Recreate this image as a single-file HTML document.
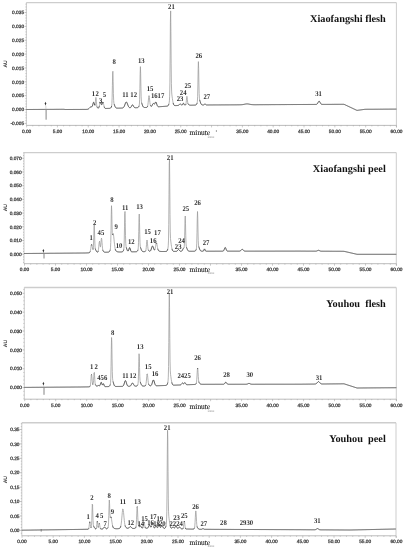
<!DOCTYPE html>
<html><head><meta charset="utf-8"><style>
html,body{margin:0;padding:0;background:#fff;}
svg{display:block;filter:grayscale(1);}
text{text-rendering:geometricPrecision;}
.tk{font-family:"Liberation Sans",sans-serif;font-size:4.8px;fill:#3a3a3a;stroke:#3a3a3a;stroke-width:0.25;}
.pk{font-family:"Liberation Serif",serif;font-size:7.3px;font-weight:bold;fill:#333;}
.ti{font-family:"Liberation Serif",serif;font-size:10.3px;font-weight:bold;fill:#111;}
.au{font-family:"Liberation Sans",sans-serif;font-size:5.1px;font-weight:bold;fill:#333;}
.sm{font-family:"Liberation Sans",sans-serif;font-size:2.7px;fill:#888;}
.mn{font-family:"Liberation Serif",serif;font-size:7.4px;fill:#222;stroke:#222;stroke-width:0.12;}
</style></head><body>
<svg width="408" height="550" viewBox="0 0 408 550">
<rect width="408" height="550" fill="#fff"/>
<line x1="26.4" y1="2.6" x2="396.4" y2="2.6" stroke="#cdcdcd" stroke-width="1.4"/>
<line x1="396.4" y1="2.6" x2="396.4" y2="127.4" stroke="#cdcdcd" stroke-width="1"/>
<line x1="26.4" y1="2.6" x2="26.4" y2="125.4" stroke="#b4b4b4" stroke-width="0.7"/>
<line x1="26.4" y1="125.4" x2="396.4" y2="125.4" stroke="#b4b4b4" stroke-width="0.9"/>
<text x="24.1" y="14.25" class="tk" text-anchor="end">0.035</text>
<line x1="24.6" y1="12.50" x2="26.4" y2="12.50" stroke="#999" stroke-width="0.6"/>
<text x="24.1" y="28.11" class="tk" text-anchor="end">0.030</text>
<line x1="24.6" y1="26.36" x2="26.4" y2="26.36" stroke="#999" stroke-width="0.6"/>
<text x="24.1" y="41.97" class="tk" text-anchor="end">0.025</text>
<line x1="24.6" y1="40.22" x2="26.4" y2="40.22" stroke="#999" stroke-width="0.6"/>
<text x="24.1" y="55.83" class="tk" text-anchor="end">0.020</text>
<line x1="24.6" y1="54.08" x2="26.4" y2="54.08" stroke="#999" stroke-width="0.6"/>
<text x="24.1" y="69.69" class="tk" text-anchor="end">0.015</text>
<line x1="24.6" y1="67.94" x2="26.4" y2="67.94" stroke="#999" stroke-width="0.6"/>
<text x="24.1" y="83.55" class="tk" text-anchor="end">0.010</text>
<line x1="24.6" y1="81.80" x2="26.4" y2="81.80" stroke="#999" stroke-width="0.6"/>
<text x="24.1" y="97.41" class="tk" text-anchor="end">0.005</text>
<line x1="24.6" y1="95.66" x2="26.4" y2="95.66" stroke="#999" stroke-width="0.6"/>
<text x="24.1" y="111.27" class="tk" text-anchor="end">0.000</text>
<line x1="24.6" y1="109.52" x2="26.4" y2="109.52" stroke="#999" stroke-width="0.6"/>
<text x="24.1" y="125.13" class="tk" text-anchor="end">-0.005</text>
<line x1="24.6" y1="123.38" x2="26.4" y2="123.38" stroke="#999" stroke-width="0.6"/>
<line x1="25.4" y1="4.18" x2="26.4" y2="4.18" stroke="#999" stroke-width="0.5"/>
<line x1="25.4" y1="6.96" x2="26.4" y2="6.96" stroke="#999" stroke-width="0.5"/>
<line x1="25.4" y1="9.73" x2="26.4" y2="9.73" stroke="#999" stroke-width="0.5"/>
<line x1="25.4" y1="15.27" x2="26.4" y2="15.27" stroke="#999" stroke-width="0.5"/>
<line x1="25.4" y1="18.04" x2="26.4" y2="18.04" stroke="#999" stroke-width="0.5"/>
<line x1="25.4" y1="20.82" x2="26.4" y2="20.82" stroke="#999" stroke-width="0.5"/>
<line x1="25.4" y1="23.59" x2="26.4" y2="23.59" stroke="#999" stroke-width="0.5"/>
<line x1="25.4" y1="29.13" x2="26.4" y2="29.13" stroke="#999" stroke-width="0.5"/>
<line x1="25.4" y1="31.90" x2="26.4" y2="31.90" stroke="#999" stroke-width="0.5"/>
<line x1="25.4" y1="34.68" x2="26.4" y2="34.68" stroke="#999" stroke-width="0.5"/>
<line x1="25.4" y1="37.45" x2="26.4" y2="37.45" stroke="#999" stroke-width="0.5"/>
<line x1="25.4" y1="42.99" x2="26.4" y2="42.99" stroke="#999" stroke-width="0.5"/>
<line x1="25.4" y1="45.76" x2="26.4" y2="45.76" stroke="#999" stroke-width="0.5"/>
<line x1="25.4" y1="48.54" x2="26.4" y2="48.54" stroke="#999" stroke-width="0.5"/>
<line x1="25.4" y1="51.31" x2="26.4" y2="51.31" stroke="#999" stroke-width="0.5"/>
<line x1="25.4" y1="56.85" x2="26.4" y2="56.85" stroke="#999" stroke-width="0.5"/>
<line x1="25.4" y1="59.62" x2="26.4" y2="59.62" stroke="#999" stroke-width="0.5"/>
<line x1="25.4" y1="62.40" x2="26.4" y2="62.40" stroke="#999" stroke-width="0.5"/>
<line x1="25.4" y1="65.17" x2="26.4" y2="65.17" stroke="#999" stroke-width="0.5"/>
<line x1="25.4" y1="70.71" x2="26.4" y2="70.71" stroke="#999" stroke-width="0.5"/>
<line x1="25.4" y1="73.48" x2="26.4" y2="73.48" stroke="#999" stroke-width="0.5"/>
<line x1="25.4" y1="76.26" x2="26.4" y2="76.26" stroke="#999" stroke-width="0.5"/>
<line x1="25.4" y1="79.03" x2="26.4" y2="79.03" stroke="#999" stroke-width="0.5"/>
<line x1="25.4" y1="84.57" x2="26.4" y2="84.57" stroke="#999" stroke-width="0.5"/>
<line x1="25.4" y1="87.34" x2="26.4" y2="87.34" stroke="#999" stroke-width="0.5"/>
<line x1="25.4" y1="90.12" x2="26.4" y2="90.12" stroke="#999" stroke-width="0.5"/>
<line x1="25.4" y1="92.89" x2="26.4" y2="92.89" stroke="#999" stroke-width="0.5"/>
<line x1="25.4" y1="98.43" x2="26.4" y2="98.43" stroke="#999" stroke-width="0.5"/>
<line x1="25.4" y1="101.20" x2="26.4" y2="101.20" stroke="#999" stroke-width="0.5"/>
<line x1="25.4" y1="103.98" x2="26.4" y2="103.98" stroke="#999" stroke-width="0.5"/>
<line x1="25.4" y1="106.75" x2="26.4" y2="106.75" stroke="#999" stroke-width="0.5"/>
<line x1="25.4" y1="112.29" x2="26.4" y2="112.29" stroke="#999" stroke-width="0.5"/>
<line x1="25.4" y1="115.06" x2="26.4" y2="115.06" stroke="#999" stroke-width="0.5"/>
<line x1="25.4" y1="117.84" x2="26.4" y2="117.84" stroke="#999" stroke-width="0.5"/>
<line x1="25.4" y1="120.61" x2="26.4" y2="120.61" stroke="#999" stroke-width="0.5"/>
<line x1="26.60" y1="125.4" x2="26.60" y2="127.4" stroke="#999" stroke-width="0.5"/>
<text x="26.60" y="132.70" class="tk" text-anchor="middle">0.00</text>
<line x1="32.77" y1="125.4" x2="32.77" y2="126.4" stroke="#999" stroke-width="0.5"/>
<line x1="38.93" y1="125.4" x2="38.93" y2="126.4" stroke="#999" stroke-width="0.5"/>
<line x1="45.09" y1="125.4" x2="45.09" y2="126.4" stroke="#999" stroke-width="0.5"/>
<line x1="51.26" y1="125.4" x2="51.26" y2="126.4" stroke="#999" stroke-width="0.5"/>
<line x1="57.42" y1="125.4" x2="57.42" y2="127.4" stroke="#999" stroke-width="0.5"/>
<text x="57.42" y="132.70" class="tk" text-anchor="middle">5.00</text>
<line x1="63.59" y1="125.4" x2="63.59" y2="126.4" stroke="#999" stroke-width="0.5"/>
<line x1="69.75" y1="125.4" x2="69.75" y2="126.4" stroke="#999" stroke-width="0.5"/>
<line x1="75.92" y1="125.4" x2="75.92" y2="126.4" stroke="#999" stroke-width="0.5"/>
<line x1="82.09" y1="125.4" x2="82.09" y2="126.4" stroke="#999" stroke-width="0.5"/>
<line x1="88.25" y1="125.4" x2="88.25" y2="127.4" stroke="#999" stroke-width="0.5"/>
<text x="88.25" y="132.70" class="tk" text-anchor="middle">10.00</text>
<line x1="94.41" y1="125.4" x2="94.41" y2="126.4" stroke="#999" stroke-width="0.5"/>
<line x1="100.58" y1="125.4" x2="100.58" y2="126.4" stroke="#999" stroke-width="0.5"/>
<line x1="106.75" y1="125.4" x2="106.75" y2="126.4" stroke="#999" stroke-width="0.5"/>
<line x1="112.91" y1="125.4" x2="112.91" y2="126.4" stroke="#999" stroke-width="0.5"/>
<line x1="119.07" y1="125.4" x2="119.07" y2="127.4" stroke="#999" stroke-width="0.5"/>
<text x="119.07" y="132.70" class="tk" text-anchor="middle">15.00</text>
<line x1="125.24" y1="125.4" x2="125.24" y2="126.4" stroke="#999" stroke-width="0.5"/>
<line x1="131.41" y1="125.4" x2="131.41" y2="126.4" stroke="#999" stroke-width="0.5"/>
<line x1="137.57" y1="125.4" x2="137.57" y2="126.4" stroke="#999" stroke-width="0.5"/>
<line x1="143.73" y1="125.4" x2="143.73" y2="126.4" stroke="#999" stroke-width="0.5"/>
<line x1="149.90" y1="125.4" x2="149.90" y2="127.4" stroke="#999" stroke-width="0.5"/>
<text x="149.90" y="132.70" class="tk" text-anchor="middle">20.00</text>
<line x1="156.06" y1="125.4" x2="156.06" y2="126.4" stroke="#999" stroke-width="0.5"/>
<line x1="162.23" y1="125.4" x2="162.23" y2="126.4" stroke="#999" stroke-width="0.5"/>
<line x1="168.39" y1="125.4" x2="168.39" y2="126.4" stroke="#999" stroke-width="0.5"/>
<line x1="174.56" y1="125.4" x2="174.56" y2="126.4" stroke="#999" stroke-width="0.5"/>
<line x1="180.72" y1="125.4" x2="180.72" y2="127.4" stroke="#999" stroke-width="0.5"/>
<text x="180.72" y="132.70" class="tk" text-anchor="middle">25.00</text>
<line x1="186.89" y1="125.4" x2="186.89" y2="126.4" stroke="#999" stroke-width="0.5"/>
<line x1="193.05" y1="125.4" x2="193.05" y2="126.4" stroke="#999" stroke-width="0.5"/>
<line x1="199.22" y1="125.4" x2="199.22" y2="126.4" stroke="#999" stroke-width="0.5"/>
<line x1="205.38" y1="125.4" x2="205.38" y2="126.4" stroke="#999" stroke-width="0.5"/>
<line x1="211.55" y1="125.4" x2="211.55" y2="127.4" stroke="#999" stroke-width="0.5"/>
<text x="211.55" y="132.70" class="tk" text-anchor="middle">30.00</text>
<line x1="217.71" y1="125.4" x2="217.71" y2="126.4" stroke="#999" stroke-width="0.5"/>
<line x1="223.88" y1="125.4" x2="223.88" y2="126.4" stroke="#999" stroke-width="0.5"/>
<line x1="230.04" y1="125.4" x2="230.04" y2="126.4" stroke="#999" stroke-width="0.5"/>
<line x1="236.21" y1="125.4" x2="236.21" y2="126.4" stroke="#999" stroke-width="0.5"/>
<line x1="242.38" y1="125.4" x2="242.38" y2="127.4" stroke="#999" stroke-width="0.5"/>
<text x="242.38" y="132.70" class="tk" text-anchor="middle">35.00</text>
<line x1="248.54" y1="125.4" x2="248.54" y2="126.4" stroke="#999" stroke-width="0.5"/>
<line x1="254.70" y1="125.4" x2="254.70" y2="126.4" stroke="#999" stroke-width="0.5"/>
<line x1="260.87" y1="125.4" x2="260.87" y2="126.4" stroke="#999" stroke-width="0.5"/>
<line x1="267.03" y1="125.4" x2="267.03" y2="126.4" stroke="#999" stroke-width="0.5"/>
<line x1="273.20" y1="125.4" x2="273.20" y2="127.4" stroke="#999" stroke-width="0.5"/>
<text x="273.20" y="132.70" class="tk" text-anchor="middle">40.00</text>
<line x1="279.37" y1="125.4" x2="279.37" y2="126.4" stroke="#999" stroke-width="0.5"/>
<line x1="285.53" y1="125.4" x2="285.53" y2="126.4" stroke="#999" stroke-width="0.5"/>
<line x1="291.69" y1="125.4" x2="291.69" y2="126.4" stroke="#999" stroke-width="0.5"/>
<line x1="297.86" y1="125.4" x2="297.86" y2="126.4" stroke="#999" stroke-width="0.5"/>
<line x1="304.03" y1="125.4" x2="304.03" y2="127.4" stroke="#999" stroke-width="0.5"/>
<text x="304.03" y="132.70" class="tk" text-anchor="middle">45.00</text>
<line x1="310.19" y1="125.4" x2="310.19" y2="126.4" stroke="#999" stroke-width="0.5"/>
<line x1="316.36" y1="125.4" x2="316.36" y2="126.4" stroke="#999" stroke-width="0.5"/>
<line x1="322.52" y1="125.4" x2="322.52" y2="126.4" stroke="#999" stroke-width="0.5"/>
<line x1="328.69" y1="125.4" x2="328.69" y2="126.4" stroke="#999" stroke-width="0.5"/>
<line x1="334.85" y1="125.4" x2="334.85" y2="127.4" stroke="#999" stroke-width="0.5"/>
<text x="334.85" y="132.70" class="tk" text-anchor="middle">50.00</text>
<line x1="341.01" y1="125.4" x2="341.01" y2="126.4" stroke="#999" stroke-width="0.5"/>
<line x1="347.18" y1="125.4" x2="347.18" y2="126.4" stroke="#999" stroke-width="0.5"/>
<line x1="353.34" y1="125.4" x2="353.34" y2="126.4" stroke="#999" stroke-width="0.5"/>
<line x1="359.51" y1="125.4" x2="359.51" y2="126.4" stroke="#999" stroke-width="0.5"/>
<line x1="365.68" y1="125.4" x2="365.68" y2="127.4" stroke="#999" stroke-width="0.5"/>
<text x="365.68" y="132.70" class="tk" text-anchor="middle">55.00</text>
<line x1="371.84" y1="125.4" x2="371.84" y2="126.4" stroke="#999" stroke-width="0.5"/>
<line x1="378.00" y1="125.4" x2="378.00" y2="126.4" stroke="#999" stroke-width="0.5"/>
<line x1="384.17" y1="125.4" x2="384.17" y2="126.4" stroke="#999" stroke-width="0.5"/>
<line x1="390.33" y1="125.4" x2="390.33" y2="126.4" stroke="#999" stroke-width="0.5"/>
<line x1="396.50" y1="125.4" x2="396.50" y2="127.4" stroke="#999" stroke-width="0.5"/>
<text x="396.50" y="132.70" class="tk" text-anchor="middle">60.00</text>
<polyline points="26.40,109.50 26.65,109.50 26.90,109.50 27.15,109.50 27.40,109.49 27.65,109.49 27.90,109.49 28.15,109.49 28.40,109.49 28.65,109.49 28.90,109.49 29.15,109.49 29.40,109.48 29.65,109.48 29.90,109.48 30.15,109.48 30.40,109.48 30.65,109.48 30.90,109.48 31.15,109.47 31.40,109.47 31.65,109.47 31.90,109.47 32.15,109.47 32.40,109.47 32.65,109.47 32.90,109.47 33.15,109.46 33.40,109.46 33.65,109.46 33.90,109.46 34.15,109.46 34.40,109.46 34.65,109.46 34.90,109.45 35.15,109.45 35.40,109.45 35.65,109.45 35.90,109.45 36.15,109.45 36.40,109.45 36.65,109.45 36.90,109.44 37.15,109.44 37.40,109.44 37.65,109.44 37.90,109.44 38.15,109.44 38.40,109.44 38.65,109.43 38.90,109.43 39.15,109.43 39.40,109.43 39.65,109.43 39.90,109.43 40.15,109.43 40.40,109.43 40.65,109.42 40.90,109.42 41.15,109.42 41.40,109.42 41.65,109.42 41.90,109.42 42.15,109.42 42.40,109.41 42.65,109.41 42.90,109.41 43.15,109.41 43.40,109.41 43.65,109.41 43.90,109.41 44.15,109.41 44.40,109.40 44.65,109.40 44.90,109.40 45.15,109.40 45.40,109.40 45.65,109.40 45.90,109.40 46.15,109.39 46.40,109.39 46.65,109.39 46.90,109.39 47.15,109.39 47.40,109.39 47.65,109.39 47.90,109.39 48.15,109.38 48.40,109.38 48.65,109.38 48.90,109.38 49.15,109.38 49.40,109.38 49.65,109.38 49.90,109.38 50.15,109.37 50.40,109.37 50.65,109.37 50.90,109.37 51.15,109.37 51.40,109.37 51.65,109.37 51.90,109.36 52.15,109.36 52.40,109.36 52.65,109.36 52.90,109.36 53.15,109.36 53.40,109.36 53.65,109.36 53.90,109.35 54.15,109.35 54.40,109.35 54.65,109.35 54.90,109.35 55.15,109.35 55.40,109.35 55.65,109.34 55.90,109.34 56.15,109.34 56.40,109.34 56.65,109.34 56.90,109.34 57.15,109.34 57.40,109.34 57.65,109.33 57.90,109.33 58.15,109.33 58.40,109.33 58.65,109.33 58.90,109.33 59.15,109.33 59.40,109.32 59.65,109.32 59.90,109.32 60.15,109.32 60.40,109.32 60.65,109.32 60.90,109.32 61.15,109.32 61.40,109.31 61.65,109.31 61.90,109.31 62.15,109.31 62.40,109.31 62.65,109.31 62.90,109.31 63.15,109.30 63.40,109.30 63.65,109.30 63.90,109.30 64.15,109.33 64.40,109.38 64.65,109.43 64.90,109.48 65.15,109.50 65.40,109.50 65.65,109.50 65.90,109.50 66.15,109.50 66.40,109.49 66.65,109.49 66.90,109.49 67.15,109.49 67.40,109.49 67.65,109.49 67.90,109.49 68.15,109.49 68.40,109.49 68.65,109.48 68.90,109.48 69.15,109.48 69.40,109.48 69.65,109.48 69.90,109.48 70.15,109.48 70.40,109.48 70.65,109.48 70.90,109.47 71.15,109.47 71.40,109.47 71.65,109.47 71.90,109.47 72.15,109.47 72.40,109.47 72.65,109.47 72.90,109.47 73.15,109.46 73.40,109.46 73.65,109.46 73.90,109.46 74.15,109.46 74.40,109.46 74.65,109.46 74.90,109.46 75.15,109.46 75.40,109.45 75.65,109.45 75.90,109.45 76.15,109.45 76.40,109.45 76.65,109.45 76.90,109.45 77.15,109.45 77.40,109.45 77.65,109.45 77.90,109.44 78.15,109.44 78.40,109.44 78.65,109.44 78.90,109.44 79.15,109.44 79.40,109.44 79.65,109.44 79.90,109.44 80.15,109.43 80.40,109.43 80.65,109.43 80.90,109.43 81.15,109.43 81.40,109.43 81.65,109.43 81.90,109.43 82.15,109.43 82.40,109.42 82.65,109.42 82.90,109.42 83.15,109.42 83.40,109.42 83.65,109.42 83.90,109.42 84.15,109.42 84.40,109.42 84.65,109.41 84.90,109.41 85.15,109.41 85.40,109.41 85.65,109.41 85.90,109.41 86.15,109.40 86.40,109.40 86.65,109.39 86.90,109.37 87.15,109.35 87.40,109.32 87.65,109.27 87.90,109.20 88.15,109.09 88.40,108.95 88.65,108.78 88.90,108.57 89.15,108.33 89.40,108.07 89.65,107.80 89.90,107.53 90.15,107.28 90.40,107.07 90.65,106.91 90.90,106.82 91.15,106.79 91.40,106.79 91.65,106.78 91.90,106.70 92.15,106.45 92.40,105.97 92.65,105.21 92.90,104.26 93.15,103.28 93.40,102.52 93.65,102.20 93.90,102.42 94.15,103.14 94.40,104.13 94.65,105.03 94.90,105.31 95.15,104.32" fill="none" stroke="#444" stroke-width="1.0" stroke-linejoin="round"/>
<polyline points="95.15,104.32 95.40,101.81 95.65,98.80 95.90,97.40 96.15,98.78 96.40,101.89 96.65,104.79 96.90,106.51" fill="none" stroke="#999" stroke-width="0.75" stroke-linejoin="round"/>
<polyline points="96.90,106.51 97.15,107.28 97.40,107.63 97.65,107.85 97.90,108.01 98.15,108.10 98.40,108.08 98.65,107.88 98.90,107.45 99.15,106.72 99.40,105.73" fill="none" stroke="#444" stroke-width="1.0" stroke-linejoin="round"/>
<polyline points="99.40,105.73 99.65,104.57 99.90,103.45" fill="none" stroke="#999" stroke-width="0.75" stroke-linejoin="round"/>
<polyline points="99.90,103.45 100.15,102.63 100.40,102.30 100.65,102.52 100.90,103.16 101.15,103.96 101.40,104.59 101.65,104.81 101.90,104.51 102.15,103.80 102.40,102.94 102.65,102.24 102.90,102.00 103.15,102.33 103.40,103.18" fill="none" stroke="#444" stroke-width="1.0" stroke-linejoin="round"/>
<polyline points="103.40,103.18 103.65,104.33 103.90,105.54 104.15,106.59" fill="none" stroke="#999" stroke-width="0.75" stroke-linejoin="round"/>
<polyline points="104.15,106.59 104.40,107.38 104.65,107.90 104.90,108.20 105.15,108.35 105.40,108.42 105.65,108.45 105.90,108.45 106.15,108.45 106.40,108.45 106.65,108.44 106.90,108.43 107.15,108.43 107.40,108.42 107.65,108.42 107.90,108.41 108.15,108.40 108.40,108.40 108.65,108.39 108.90,108.38 109.15,108.37 109.40,108.36 109.65,108.33 109.90,108.29 110.15,108.23 110.40,108.13 110.65,107.97 110.90,107.73 111.15,107.39 111.40,106.91 111.65,106.06" fill="none" stroke="#444" stroke-width="1.0" stroke-linejoin="round"/>
<polyline points="111.65,106.06 111.90,103.74 112.15,97.38 112.40,85.32 112.65,73.09 112.90,71.25 113.15,81.29 113.40,93.40 113.65,100.42 113.90,103.06 114.15,104.10" fill="none" stroke="#999" stroke-width="0.75" stroke-linejoin="round"/>
<polyline points="114.15,104.10 114.40,104.84 114.65,105.54 114.90,106.20 115.15,106.76 115.40,107.21 115.65,107.56 115.90,107.80 116.15,107.96 116.40,108.06 116.65,108.12 116.90,108.15 117.15,108.17 117.40,108.17 117.65,108.17 117.90,108.17 118.15,108.16 118.40,108.16 118.65,108.15 118.90,108.15 119.15,108.14 119.40,108.13 119.65,108.13 119.90,108.12 120.15,108.12 120.40,108.11 120.65,108.10 120.90,108.10 121.15,108.09 121.40,108.08 121.65,108.07 121.90,108.05 122.15,108.03 122.40,108.00 122.65,107.94 122.90,107.86 123.15,107.73 123.40,107.54 123.65,107.28 123.90,106.94 124.15,106.50 124.40,105.96 124.65,105.34 124.90,104.66 125.15,103.96 125.40,103.29 125.65,102.72 125.90,102.29 126.15,102.04 126.40,102.02 126.65,102.20 126.90,102.59 127.15,103.13 127.40,103.77 127.65,104.46 127.90,105.13 128.15,105.76 128.40,106.30 128.65,106.75 128.90,107.10 129.15,107.36 129.40,107.54 129.65,107.65 129.90,107.71 130.15,107.70 130.40,107.63 130.65,107.48 130.90,107.23 131.15,106.87 131.40,106.41 131.65,105.91 131.90,105.42 132.15,105.03 132.40,104.82 132.65,104.84 132.90,105.07 133.15,105.48 133.40,105.97 133.65,106.46 133.90,106.89 134.15,107.22 134.40,107.45 134.65,107.59 134.90,107.68 135.15,107.72 135.40,107.73 135.65,107.74 135.90,107.74 136.15,107.73 136.40,107.72 136.65,107.71 136.90,107.70 137.15,107.68 137.40,107.65 137.65,107.59 137.90,107.50 138.15,107.35 138.40,107.13 138.65,106.81 138.90,106.37 139.15,105.67" fill="none" stroke="#444" stroke-width="1.0" stroke-linejoin="round"/>
<polyline points="139.15,105.67 139.40,104.05 139.65,99.33 139.90,88.62 140.15,74.15 140.40,66.60 140.65,73.16 140.90,86.76 141.15,96.83 141.40,101.19 141.65,102.74" fill="none" stroke="#999" stroke-width="0.75" stroke-linejoin="round"/>
<polyline points="141.65,102.74 141.90,103.59 142.15,104.36 142.40,105.10 142.65,105.75 142.90,106.29 143.15,106.71 143.40,107.01 143.65,107.22 143.90,107.35 144.15,107.43 144.40,107.48 144.65,107.50 144.90,107.51 145.15,107.51 145.40,107.50 145.65,107.49 145.90,107.48 146.15,107.46 146.40,107.43 146.65,107.38 146.90,107.29 147.15,107.13 147.40,106.81 147.65,106.13" fill="none" stroke="#444" stroke-width="1.0" stroke-linejoin="round"/>
<polyline points="147.65,106.13 147.90,104.85 148.15,102.78 148.40,100.10 148.65,97.45 148.90,95.80" fill="none" stroke="#999" stroke-width="0.75" stroke-linejoin="round"/>
<polyline points="148.90,95.80 149.15,95.84" fill="none" stroke="#444" stroke-width="1.0" stroke-linejoin="round"/>
<polyline points="149.15,95.84 149.40,97.51 149.65,100.02 149.90,102.47 150.15,104.29 150.40,105.40" fill="none" stroke="#999" stroke-width="0.75" stroke-linejoin="round"/>
<polyline points="150.40,105.40 150.65,106.00 150.90,106.28 151.15,106.38 151.40,106.33 151.65,106.13 151.90,105.77 152.15,105.29 152.40,104.72 152.65,104.18 152.90,103.75 153.15,103.52 153.40,103.51 153.65,103.69 153.90,103.94 154.15,104.13 154.40,104.14 154.65,103.91 154.90,103.46 155.15,102.89 155.40,102.37 155.65,102.05 155.90,102.04 156.15,102.37 156.40,102.99 156.65,103.76 156.90,104.57 157.15,105.29 157.40,105.85 157.65,106.25 157.90,106.51 158.15,106.65 158.40,106.72 158.65,106.74 158.90,106.75 159.15,106.74 159.40,106.72 159.65,106.70 159.90,106.69 160.15,106.67 160.40,106.65 160.65,106.63 160.90,106.62 161.15,106.60 161.40,106.58 161.65,106.56 161.90,106.54 162.15,106.53 162.40,106.51 162.65,106.49 162.90,106.47 163.15,106.45 163.40,106.44 163.65,106.42 163.90,106.40 164.15,106.38 164.40,106.36 164.65,106.35 164.90,106.33 165.15,106.31 165.40,106.29 165.65,106.27 165.90,106.25 166.15,106.24 166.40,106.22 166.65,106.19 166.90,106.17 167.15,106.13 167.40,106.07 167.65,105.98 167.90,105.83 168.15,105.59 168.40,105.21 168.65,104.66 168.90,103.86" fill="none" stroke="#444" stroke-width="1.0" stroke-linejoin="round"/>
<polyline points="168.90,103.86 169.15,102.75 169.40,100.89 169.65,96.21 169.90,82.86 170.15,55.06 170.40,22.24 170.65,10.89 170.90,31.64 171.15,63.16 171.40,83.70 171.65,91.93 171.90,94.95 172.15,96.86 172.40,98.64 172.65,100.31 172.90,101.77 173.15,102.97" fill="none" stroke="#999" stroke-width="0.75" stroke-linejoin="round"/>
<polyline points="173.15,102.97 173.40,103.88 173.65,104.54 173.90,104.98 174.15,105.26 174.40,105.42 174.65,105.51 174.90,105.55 175.15,105.57 175.40,105.58 175.65,105.58 175.90,105.58 176.15,105.57 176.40,105.57 176.65,105.56 176.90,105.55 177.15,105.54 177.40,105.53 177.65,105.51 177.90,105.47 178.15,105.41 178.40,105.32 178.65,105.18 178.90,104.99 179.15,104.75 179.40,104.50 179.65,104.26 179.90,104.09 180.15,104.00 180.40,104.03 180.65,104.16 180.90,104.37 181.15,104.61 181.40,104.83 181.65,105.01 181.90,105.09 182.15,105.04 182.40,104.80 182.65,104.38 182.90,103.84 183.15,103.39 183.40,103.20 183.65,103.37 183.90,103.82 184.15,104.35 184.40,104.79 184.65,105.04 184.90,105.15 185.15,105.13 185.40,105.03 185.65,104.78 185.90,104.13" fill="none" stroke="#444" stroke-width="1.0" stroke-linejoin="round"/>
<polyline points="185.90,104.13 186.15,102.67 186.40,100.22 186.65,97.56 186.90,96.30 187.15,97.33 187.40,99.79 187.65,102.09 187.90,103.46" fill="none" stroke="#999" stroke-width="0.75" stroke-linejoin="round"/>
<polyline points="187.90,103.46 188.15,104.09 188.40,104.37 188.65,104.56 188.90,104.72 189.15,104.86 189.40,104.97 189.65,105.06 189.90,105.12 190.15,105.16 190.40,105.19 190.65,105.20 190.90,105.21 191.15,105.21 191.40,105.20 191.65,105.20 191.90,105.19 192.15,105.19 192.40,105.18 192.65,105.18 192.90,105.17 193.15,105.16 193.40,105.16 193.65,105.15 193.90,105.15 194.15,105.14 194.40,105.13 194.65,105.12 194.90,105.11 195.15,105.09 195.40,105.05 195.65,104.99 195.90,104.89 196.15,104.74 196.40,104.51 196.65,104.17 196.90,103.70 197.15,102.96" fill="none" stroke="#444" stroke-width="1.0" stroke-linejoin="round"/>
<polyline points="197.15,102.96 197.40,101.25 197.65,96.25 197.90,84.91 198.15,69.59 198.40,61.60 198.65,68.54 198.90,82.95 199.15,93.61 199.40,98.22 199.65,99.86" fill="none" stroke="#999" stroke-width="0.75" stroke-linejoin="round"/>
<polyline points="199.65,99.86 199.90,100.77 200.15,101.59 200.40,102.37 200.65,103.06 200.90,103.64 201.15,104.09 201.40,104.41 201.65,104.64 201.90,104.79 202.15,104.88 202.40,104.93 202.65,104.96 202.90,104.97 203.15,104.97 203.40,104.95 203.65,104.90 203.90,104.80 204.15,104.62 204.40,104.39 204.65,104.15 204.90,104.01 205.15,104.03 205.40,104.19 205.65,104.43 205.90,104.65 206.15,104.81 206.40,104.90 206.65,104.94 206.90,104.96 207.15,104.96 207.40,104.96 207.65,104.96 207.90,104.96 208.15,104.96 208.40,104.96 208.65,104.96 208.90,104.96 209.15,104.95 209.40,104.95 209.65,104.95 209.90,104.95 210.15,104.95 210.40,104.95 210.65,104.95 210.90,104.95 211.15,104.94 211.40,104.94 211.65,104.94 211.90,104.94 212.15,104.94 212.40,104.94 212.65,104.94 212.90,104.94 213.15,104.93 213.40,104.93 213.65,104.93 213.90,104.93 214.15,104.93 214.40,104.93 214.65,104.93 214.90,104.93 215.15,104.92 215.40,104.92 215.65,104.92 215.90,104.92 216.15,104.92 216.40,104.92 216.65,104.92 216.90,104.92 217.15,104.91 217.40,104.91 217.65,104.91 217.90,104.91 218.15,104.91 218.40,104.91 218.65,104.91 218.90,104.91 219.15,104.90 219.40,104.90 219.65,104.90 219.90,104.90 220.15,104.90 220.40,104.90 220.65,104.90 220.90,104.90 221.15,104.89 221.40,104.89 221.65,104.89 221.90,104.89 222.15,104.89 222.40,104.89 222.65,104.89 222.90,104.89 223.15,104.88 223.40,104.88 223.65,104.88 223.90,104.88 224.15,104.88 224.40,104.88 224.65,104.88 224.90,104.88 225.15,104.87 225.40,104.87 225.65,104.87 225.90,104.87 226.15,104.87 226.40,104.87 226.65,104.87 226.90,104.87 227.15,104.86 227.40,104.86 227.65,104.86 227.90,104.86 228.15,104.86 228.40,104.86 228.65,104.86 228.90,104.86 229.15,104.85 229.40,104.85 229.65,104.85 229.90,104.85 230.15,104.85 230.40,104.85 230.65,104.85 230.90,104.85 231.15,104.84 231.40,104.84 231.65,104.84 231.90,104.84 232.15,104.84 232.40,104.84 232.65,104.84 232.90,104.84 233.15,104.83 233.40,104.83 233.65,104.83 233.90,104.83 234.15,104.83 234.40,104.83 234.65,104.83 234.90,104.83 235.15,104.82 235.40,104.82 235.65,104.82 235.90,104.82 236.15,104.82 236.40,104.82 236.65,104.82 236.90,104.82 237.15,104.81 237.40,104.81 237.65,104.81 237.90,104.81 238.15,104.81 238.40,104.81 238.65,104.80 238.90,104.80 239.15,104.80 239.40,104.79 239.65,104.79 239.90,104.79 240.15,104.78 240.40,104.77 240.65,104.76 240.90,104.75 241.15,104.74 241.40,104.72 241.65,104.70 241.90,104.68 242.15,104.66 242.40,104.63 242.65,104.60 242.90,104.56 243.15,104.52 243.40,104.48 243.65,104.43 243.90,104.38 244.15,104.33 244.40,104.27 244.65,104.22 244.90,104.17 245.15,104.12 245.40,104.07 245.65,104.02 245.90,103.99 246.15,103.95 246.40,103.93 246.65,103.91 246.90,103.90 247.15,103.90 247.40,103.91 247.65,103.93 247.90,103.95 248.15,103.98 248.40,104.02 248.65,104.06 248.90,104.11 249.15,104.16 249.40,104.21 249.65,104.26 249.90,104.31 250.15,104.36 250.40,104.40 250.65,104.45 250.90,104.49 251.15,104.53 251.40,104.56 251.65,104.59 251.90,104.61 252.15,104.64 252.40,104.65 252.65,104.67 252.90,104.68 253.15,104.69 253.40,104.70 253.65,104.71 253.90,104.71 254.15,104.71 254.40,104.72 254.65,104.72 254.90,104.72 255.15,104.72 255.40,104.72 255.65,104.72 255.90,104.72 256.15,104.72 256.40,104.72 256.65,104.72 256.90,104.72 257.15,104.71 257.40,104.71 257.65,104.71 257.90,104.71 258.15,104.71 258.40,104.71 258.65,104.71 258.90,104.71 259.15,104.70 259.40,104.70 259.65,104.70 259.90,104.70 260.15,104.70 260.40,104.70 260.65,104.70 260.90,104.70 261.15,104.69 261.40,104.69 261.65,104.69 261.90,104.69 262.15,104.69 262.40,104.69 262.65,104.69 262.90,104.69 263.15,104.68 263.40,104.68 263.65,104.68 263.90,104.68 264.15,104.68 264.40,104.68 264.65,104.68 264.90,104.68 265.15,104.67 265.40,104.67 265.65,104.67 265.90,104.67 266.15,104.67 266.40,104.67 266.65,104.67 266.90,104.67 267.15,104.66 267.40,104.66 267.65,104.66 267.90,104.66 268.15,104.66 268.40,104.66 268.65,104.66 268.90,104.66 269.15,104.65 269.40,104.65 269.65,104.65 269.90,104.65 270.15,104.65 270.40,104.65 270.65,104.65 270.90,104.65 271.15,104.64 271.40,104.64 271.65,104.64 271.90,104.64 272.15,104.64 272.40,104.64 272.65,104.64 272.90,104.64 273.15,104.63 273.40,104.63 273.65,104.63 273.90,104.63 274.15,104.63 274.40,104.63 274.65,104.63 274.90,104.63 275.15,104.62 275.40,104.62 275.65,104.62 275.90,104.62 276.15,104.62 276.40,104.62 276.65,104.62 276.90,104.62 277.15,104.61 277.40,104.61 277.65,104.61 277.90,104.61 278.15,104.61 278.40,104.61 278.65,104.61 278.90,104.61 279.15,104.60 279.40,104.60 279.65,104.60 279.90,104.60 280.15,104.60 280.40,104.60 280.65,104.60 280.90,104.60 281.15,104.59 281.40,104.59 281.65,104.59 281.90,104.59 282.15,104.59 282.40,104.59 282.65,104.59 282.90,104.59 283.15,104.58 283.40,104.58 283.65,104.58 283.90,104.58 284.15,104.58 284.40,104.58 284.65,104.58 284.90,104.58 285.15,104.57 285.40,104.57 285.65,104.57 285.90,104.57 286.15,104.57 286.40,104.57 286.65,104.57 286.90,104.57 287.15,104.56 287.40,104.56 287.65,104.56 287.90,104.56 288.15,104.56 288.40,104.56 288.65,104.56 288.90,104.56 289.15,104.55 289.40,104.55 289.65,104.55 289.90,104.55 290.15,104.55 290.40,104.55 290.65,104.55 290.90,104.55 291.15,104.54 291.40,104.54 291.65,104.54 291.90,104.54 292.15,104.54 292.40,104.54 292.65,104.54 292.90,104.54 293.15,104.53 293.40,104.53 293.65,104.53 293.90,104.53 294.15,104.53 294.40,104.53 294.65,104.53 294.90,104.53 295.15,104.52 295.40,104.52 295.65,104.52 295.90,104.52 296.15,104.52 296.40,104.52 296.65,104.52 296.90,104.52 297.15,104.51 297.40,104.51 297.65,104.51 297.90,104.51 298.15,104.51 298.40,104.51 298.65,104.51 298.90,104.51 299.15,104.50 299.40,104.50 299.65,104.50 299.90,104.50 300.15,104.50 300.40,104.50 300.65,104.50 300.90,104.50 301.15,104.49 301.40,104.49 301.65,104.49 301.90,104.49 302.15,104.49 302.40,104.49 302.65,104.49 302.90,104.49 303.15,104.49 303.40,104.48 303.65,104.48 303.90,104.48 304.15,104.48 304.40,104.48 304.65,104.48 304.90,104.48 305.15,104.48 305.40,104.48 305.65,104.47 305.90,104.47 306.15,104.47 306.40,104.47 306.65,104.47 306.90,104.47 307.15,104.47 307.40,104.47 307.65,104.47 307.90,104.46 308.15,104.46 308.40,104.46 308.65,104.46 308.90,104.46 309.15,104.46 309.40,104.46 309.65,104.46 309.90,104.45 310.15,104.45 310.40,104.45 310.65,104.45 310.90,104.45 311.15,104.45 311.40,104.45 311.65,104.45 311.90,104.45 312.15,104.44 312.40,104.44 312.65,104.44 312.90,104.44 313.15,104.44 313.40,104.44 313.65,104.44 313.90,104.44 314.15,104.44 314.40,104.43 314.65,104.43 314.90,104.43 315.15,104.43 315.40,104.43 315.65,104.42 315.90,104.41 316.15,104.39 316.40,104.34 316.65,104.26 316.90,104.14 317.15,103.94 317.40,103.66 317.65,103.30 317.90,102.85 318.15,102.37 318.40,101.90 318.65,101.51 318.90,101.26 319.15,101.20 319.40,101.34 319.65,101.65 319.90,102.08 320.15,102.56 320.40,103.03 320.65,103.44 320.90,103.77 321.15,104.01 321.40,104.17 321.65,104.28 321.90,104.34 322.15,104.37 322.40,104.38 322.65,104.39 322.90,104.39 323.15,104.39 323.40,104.39 323.65,104.39 323.90,104.39 324.15,104.39 324.40,104.39 324.65,104.39 324.90,104.39 325.15,104.39 325.40,104.38 325.65,104.38 325.90,104.38 326.15,104.38 326.40,104.38 326.65,104.38 326.90,104.38 327.15,104.38 327.40,104.38 327.65,104.37 327.90,104.37 328.15,104.37 328.40,104.37 328.65,104.37 328.90,104.37 329.15,104.37 329.40,104.37 329.65,104.37 329.90,104.36 330.15,104.36 330.40,104.36 330.65,104.36 330.90,104.36 331.15,104.36 331.40,104.36 331.65,104.36 331.90,104.36 332.15,104.35 332.40,104.35 332.65,104.35 332.90,104.35 333.15,104.35 333.40,104.35 333.65,104.35 333.90,104.35 334.15,104.34 334.40,104.34 334.65,104.34 334.90,104.34 335.15,104.34 335.40,104.34 335.65,104.34 335.90,104.34 336.15,104.34 336.40,104.33 336.65,104.33 336.90,104.33 337.15,104.33 337.40,104.33 337.65,104.33 337.90,104.33 338.15,104.33 338.40,104.33 338.65,104.32 338.90,104.32 339.15,104.32 339.40,104.32 339.65,104.32 339.90,104.32 340.15,104.32 340.40,104.32 340.65,104.32 340.90,104.31 341.15,104.31 341.40,104.31 341.65,104.31 341.90,104.31 342.15,104.31 342.40,104.31 342.65,104.31 342.90,104.30 343.15,104.30 343.40,104.30 343.65,104.30 343.90,104.30 344.15,104.37 344.40,104.49 344.65,104.60 344.90,104.72 345.15,104.84 345.40,104.96 345.65,105.07 345.90,105.19 346.15,105.31 346.40,105.43 346.65,105.54 346.90,105.66 347.15,105.78 347.40,105.90 347.65,106.01 347.90,106.13 348.15,106.25 348.40,106.36 348.65,106.48 348.90,106.60 349.15,106.72 349.40,106.83 349.65,106.95 349.90,107.07 350.15,107.19 350.40,107.30 350.65,107.42 350.90,107.54 351.15,107.65 351.40,107.77 351.65,107.89 351.90,108.01 352.15,108.12 352.40,108.24 352.65,108.36 352.90,108.48 353.15,108.59 353.40,108.71 353.65,108.83 353.90,108.95 354.15,109.06 354.40,109.18 354.65,109.30 354.90,109.41 355.15,109.53 355.40,109.65 355.65,109.77 355.90,109.88 356.15,110.00 356.40,110.12 356.65,110.24 356.90,110.35 357.15,110.38 357.40,110.35 357.65,110.31 357.90,110.28 358.15,110.24 358.40,110.21 358.65,110.17 358.90,110.14 359.15,110.10 359.40,110.07 359.65,110.04 359.90,110.00 360.15,109.97 360.40,109.93 360.65,109.90 360.90,109.86 361.15,109.83 361.40,109.80 361.65,109.76 361.90,109.73 362.15,109.69 362.40,109.66 362.65,109.62 362.90,109.59 363.15,109.55 363.40,109.52 363.65,109.49 363.90,109.45 364.15,109.42 364.40,109.38 364.65,109.35 364.90,109.31 365.15,109.30 365.40,109.30 365.65,109.30 365.90,109.29 366.15,109.29 366.40,109.29 366.65,109.29 366.90,109.29 367.15,109.29 367.40,109.28 367.65,109.28 367.90,109.28 368.15,109.28 368.40,109.28 368.65,109.28 368.90,109.28 369.15,109.27 369.40,109.27 369.65,109.27 369.90,109.27 370.15,109.27 370.40,109.27 370.65,109.26 370.90,109.26 371.15,109.26 371.40,109.26 371.65,109.26 371.90,109.26 372.15,109.25 372.40,109.25 372.65,109.25 372.90,109.25 373.15,109.25 373.40,109.25 373.65,109.24 373.90,109.24 374.15,109.24 374.40,109.24 374.65,109.24 374.90,109.24 375.15,109.24 375.40,109.23 375.65,109.23 375.90,109.23 376.15,109.23 376.40,109.23 376.65,109.23 376.90,109.22 377.15,109.22 377.40,109.22 377.65,109.22 377.90,109.22 378.15,109.22 378.40,109.21 378.65,109.21 378.90,109.21 379.15,109.21 379.40,109.21 379.65,109.21 379.90,109.21 380.15,109.20 380.40,109.20 380.65,109.20 380.90,109.20 381.15,109.20 381.40,109.20 381.65,109.19 381.90,109.19 382.15,109.19 382.40,109.19 382.65,109.19 382.90,109.19 383.15,109.18 383.40,109.18 383.65,109.18 383.90,109.18 384.15,109.18 384.40,109.18 384.65,109.17 384.90,109.17 385.15,109.17 385.40,109.17 385.65,109.17 385.90,109.17 386.15,109.17 386.40,109.16 386.65,109.16 386.90,109.16 387.15,109.16 387.40,109.16 387.65,109.16 387.90,109.15 388.15,109.15 388.40,109.15 388.65,109.15 388.90,109.15 389.15,109.15 389.40,109.14 389.65,109.14 389.90,109.14 390.15,109.14 390.40,109.14 390.65,109.14 390.90,109.14 391.15,109.13 391.40,109.13 391.65,109.13 391.90,109.13 392.15,109.13 392.40,109.13 392.65,109.12 392.90,109.12 393.15,109.12 393.40,109.12 393.65,109.12 393.90,109.12 394.15,109.11 394.40,109.11 394.65,109.11 394.90,109.11 395.15,109.11 395.40,109.11 395.65,109.10 395.90,109.10 396.15,109.10 396.40,109.10" fill="none" stroke="#444" stroke-width="1.0" stroke-linejoin="round"/>
<path d="M45.50 101.80L46.25 103.40L45.50 105.80L44.75 103.40Z" fill="#333"/>
<line x1="45.80" y1="105.80" x2="46.00" y2="109.50" stroke="#bbb" stroke-width="0.6"/>
<line x1="46.10" y1="109.50" x2="46.10" y2="119.70" stroke="#777" stroke-width="0.9"/>
<text transform="translate(93.50 95.50) scale(0.92 1)" class="pk" text-anchor="middle">1</text>
<text transform="translate(97.20 95.50) scale(0.92 1)" class="pk" text-anchor="middle">2</text>
<text transform="translate(100.60 102.90) scale(0.92 1)" class="pk" text-anchor="middle">3</text>
<text transform="translate(104.50 96.80) scale(0.92 1)" class="pk" text-anchor="middle">5</text>
<text transform="translate(114.30 64.00) scale(0.92 1)" class="pk" text-anchor="middle">8</text>
<text transform="translate(125.40 96.70) scale(0.92 1)" class="pk" text-anchor="middle">11</text>
<text transform="translate(133.70 96.80) scale(0.92 1)" class="pk" text-anchor="middle">12</text>
<text transform="translate(141.30 63.10) scale(0.92 1)" class="pk" text-anchor="middle">13</text>
<text transform="translate(150.00 91.00) scale(0.92 1)" class="pk" text-anchor="middle">15</text>
<text transform="translate(157.60 98.00) scale(0.92 1)" class="pk" text-anchor="middle">1617</text>
<text transform="translate(171.40 8.80) scale(0.92 1)" class="pk" text-anchor="middle">21</text>
<text transform="translate(180.00 101.10) scale(0.92 1)" class="pk" text-anchor="middle">23</text>
<text transform="translate(183.20 94.90) scale(0.92 1)" class="pk" text-anchor="middle">24</text>
<text transform="translate(187.80 87.80) scale(0.92 1)" class="pk" text-anchor="middle">25</text>
<text transform="translate(198.80 58.40) scale(0.92 1)" class="pk" text-anchor="middle">26</text>
<text transform="translate(206.80 99.10) scale(0.92 1)" class="pk" text-anchor="middle">27</text>
<text transform="translate(318.50 96.30) scale(0.92 1)" class="pk" text-anchor="middle">31</text>
<text x="385.8" y="21.70" class="ti" text-anchor="end">Xiaofangshi flesh</text>
<text transform="translate(6.8 63.90) rotate(-90)" class="au" text-anchor="middle">AU</text>
<rect x="186.8" y="128.6" width="32" height="8" fill="#fff"/>
<line x1="216.4" y1="130.0" x2="216.4" y2="132.0" stroke="#666" stroke-width="0.6"/>
<text x="189.6" y="134.90" class="mn">minute</text>
<text x="207.6" y="137.50" class="sm">1/100</text>
<line x1="24.0" y1="152.6" x2="396.3" y2="152.6" stroke="#cdcdcd" stroke-width="1.4"/>
<line x1="396.3" y1="152.6" x2="396.3" y2="265.7" stroke="#cdcdcd" stroke-width="1"/>
<line x1="24.0" y1="152.6" x2="24.0" y2="263.7" stroke="#b4b4b4" stroke-width="0.7"/>
<line x1="24.0" y1="263.7" x2="396.3" y2="263.7" stroke="#b4b4b4" stroke-width="0.9"/>
<text x="21.7" y="160.05" class="tk" text-anchor="end">0.070</text>
<line x1="22.2" y1="158.30" x2="24.0" y2="158.30" stroke="#999" stroke-width="0.6"/>
<text x="21.7" y="173.75" class="tk" text-anchor="end">0.060</text>
<line x1="22.2" y1="172.00" x2="24.0" y2="172.00" stroke="#999" stroke-width="0.6"/>
<text x="21.7" y="187.45" class="tk" text-anchor="end">0.050</text>
<line x1="22.2" y1="185.70" x2="24.0" y2="185.70" stroke="#999" stroke-width="0.6"/>
<text x="21.7" y="201.15" class="tk" text-anchor="end">0.040</text>
<line x1="22.2" y1="199.40" x2="24.0" y2="199.40" stroke="#999" stroke-width="0.6"/>
<text x="21.7" y="214.85" class="tk" text-anchor="end">0.030</text>
<line x1="22.2" y1="213.10" x2="24.0" y2="213.10" stroke="#999" stroke-width="0.6"/>
<text x="21.7" y="228.55" class="tk" text-anchor="end">0.020</text>
<line x1="22.2" y1="226.80" x2="24.0" y2="226.80" stroke="#999" stroke-width="0.6"/>
<text x="21.7" y="242.25" class="tk" text-anchor="end">0.010</text>
<line x1="22.2" y1="240.50" x2="24.0" y2="240.50" stroke="#999" stroke-width="0.6"/>
<text x="21.7" y="255.95" class="tk" text-anchor="end">0.000</text>
<line x1="22.2" y1="254.20" x2="24.0" y2="254.20" stroke="#999" stroke-width="0.6"/>
<line x1="23.0" y1="152.82" x2="24.0" y2="152.82" stroke="#999" stroke-width="0.5"/>
<line x1="23.0" y1="155.56" x2="24.0" y2="155.56" stroke="#999" stroke-width="0.5"/>
<line x1="23.0" y1="161.04" x2="24.0" y2="161.04" stroke="#999" stroke-width="0.5"/>
<line x1="23.0" y1="163.78" x2="24.0" y2="163.78" stroke="#999" stroke-width="0.5"/>
<line x1="23.0" y1="166.52" x2="24.0" y2="166.52" stroke="#999" stroke-width="0.5"/>
<line x1="23.0" y1="169.26" x2="24.0" y2="169.26" stroke="#999" stroke-width="0.5"/>
<line x1="23.0" y1="174.74" x2="24.0" y2="174.74" stroke="#999" stroke-width="0.5"/>
<line x1="23.0" y1="177.48" x2="24.0" y2="177.48" stroke="#999" stroke-width="0.5"/>
<line x1="23.0" y1="180.22" x2="24.0" y2="180.22" stroke="#999" stroke-width="0.5"/>
<line x1="23.0" y1="182.96" x2="24.0" y2="182.96" stroke="#999" stroke-width="0.5"/>
<line x1="23.0" y1="188.44" x2="24.0" y2="188.44" stroke="#999" stroke-width="0.5"/>
<line x1="23.0" y1="191.18" x2="24.0" y2="191.18" stroke="#999" stroke-width="0.5"/>
<line x1="23.0" y1="193.92" x2="24.0" y2="193.92" stroke="#999" stroke-width="0.5"/>
<line x1="23.0" y1="196.66" x2="24.0" y2="196.66" stroke="#999" stroke-width="0.5"/>
<line x1="23.0" y1="202.14" x2="24.0" y2="202.14" stroke="#999" stroke-width="0.5"/>
<line x1="23.0" y1="204.88" x2="24.0" y2="204.88" stroke="#999" stroke-width="0.5"/>
<line x1="23.0" y1="207.62" x2="24.0" y2="207.62" stroke="#999" stroke-width="0.5"/>
<line x1="23.0" y1="210.36" x2="24.0" y2="210.36" stroke="#999" stroke-width="0.5"/>
<line x1="23.0" y1="215.84" x2="24.0" y2="215.84" stroke="#999" stroke-width="0.5"/>
<line x1="23.0" y1="218.58" x2="24.0" y2="218.58" stroke="#999" stroke-width="0.5"/>
<line x1="23.0" y1="221.32" x2="24.0" y2="221.32" stroke="#999" stroke-width="0.5"/>
<line x1="23.0" y1="224.06" x2="24.0" y2="224.06" stroke="#999" stroke-width="0.5"/>
<line x1="23.0" y1="229.54" x2="24.0" y2="229.54" stroke="#999" stroke-width="0.5"/>
<line x1="23.0" y1="232.28" x2="24.0" y2="232.28" stroke="#999" stroke-width="0.5"/>
<line x1="23.0" y1="235.02" x2="24.0" y2="235.02" stroke="#999" stroke-width="0.5"/>
<line x1="23.0" y1="237.76" x2="24.0" y2="237.76" stroke="#999" stroke-width="0.5"/>
<line x1="23.0" y1="243.24" x2="24.0" y2="243.24" stroke="#999" stroke-width="0.5"/>
<line x1="23.0" y1="245.98" x2="24.0" y2="245.98" stroke="#999" stroke-width="0.5"/>
<line x1="23.0" y1="248.72" x2="24.0" y2="248.72" stroke="#999" stroke-width="0.5"/>
<line x1="23.0" y1="251.46" x2="24.0" y2="251.46" stroke="#999" stroke-width="0.5"/>
<line x1="23.0" y1="256.94" x2="24.0" y2="256.94" stroke="#999" stroke-width="0.5"/>
<line x1="23.0" y1="259.68" x2="24.0" y2="259.68" stroke="#999" stroke-width="0.5"/>
<line x1="23.0" y1="262.42" x2="24.0" y2="262.42" stroke="#999" stroke-width="0.5"/>
<line x1="24.50" y1="263.7" x2="24.50" y2="265.7" stroke="#999" stroke-width="0.5"/>
<text x="24.50" y="271.00" class="tk" text-anchor="middle">0.00</text>
<line x1="30.70" y1="263.7" x2="30.70" y2="264.7" stroke="#999" stroke-width="0.5"/>
<line x1="36.90" y1="263.7" x2="36.90" y2="264.7" stroke="#999" stroke-width="0.5"/>
<line x1="43.10" y1="263.7" x2="43.10" y2="264.7" stroke="#999" stroke-width="0.5"/>
<line x1="49.30" y1="263.7" x2="49.30" y2="264.7" stroke="#999" stroke-width="0.5"/>
<line x1="55.50" y1="263.7" x2="55.50" y2="265.7" stroke="#999" stroke-width="0.5"/>
<text x="55.50" y="271.00" class="tk" text-anchor="middle">5.00</text>
<line x1="61.70" y1="263.7" x2="61.70" y2="264.7" stroke="#999" stroke-width="0.5"/>
<line x1="67.90" y1="263.7" x2="67.90" y2="264.7" stroke="#999" stroke-width="0.5"/>
<line x1="74.10" y1="263.7" x2="74.10" y2="264.7" stroke="#999" stroke-width="0.5"/>
<line x1="80.30" y1="263.7" x2="80.30" y2="264.7" stroke="#999" stroke-width="0.5"/>
<line x1="86.50" y1="263.7" x2="86.50" y2="265.7" stroke="#999" stroke-width="0.5"/>
<text x="86.50" y="271.00" class="tk" text-anchor="middle">10.00</text>
<line x1="92.70" y1="263.7" x2="92.70" y2="264.7" stroke="#999" stroke-width="0.5"/>
<line x1="98.90" y1="263.7" x2="98.90" y2="264.7" stroke="#999" stroke-width="0.5"/>
<line x1="105.10" y1="263.7" x2="105.10" y2="264.7" stroke="#999" stroke-width="0.5"/>
<line x1="111.30" y1="263.7" x2="111.30" y2="264.7" stroke="#999" stroke-width="0.5"/>
<line x1="117.50" y1="263.7" x2="117.50" y2="265.7" stroke="#999" stroke-width="0.5"/>
<text x="117.50" y="271.00" class="tk" text-anchor="middle">15.00</text>
<line x1="123.70" y1="263.7" x2="123.70" y2="264.7" stroke="#999" stroke-width="0.5"/>
<line x1="129.90" y1="263.7" x2="129.90" y2="264.7" stroke="#999" stroke-width="0.5"/>
<line x1="136.10" y1="263.7" x2="136.10" y2="264.7" stroke="#999" stroke-width="0.5"/>
<line x1="142.30" y1="263.7" x2="142.30" y2="264.7" stroke="#999" stroke-width="0.5"/>
<line x1="148.50" y1="263.7" x2="148.50" y2="265.7" stroke="#999" stroke-width="0.5"/>
<text x="148.50" y="271.00" class="tk" text-anchor="middle">20.00</text>
<line x1="154.70" y1="263.7" x2="154.70" y2="264.7" stroke="#999" stroke-width="0.5"/>
<line x1="160.90" y1="263.7" x2="160.90" y2="264.7" stroke="#999" stroke-width="0.5"/>
<line x1="167.10" y1="263.7" x2="167.10" y2="264.7" stroke="#999" stroke-width="0.5"/>
<line x1="173.30" y1="263.7" x2="173.30" y2="264.7" stroke="#999" stroke-width="0.5"/>
<line x1="179.50" y1="263.7" x2="179.50" y2="265.7" stroke="#999" stroke-width="0.5"/>
<text x="179.50" y="271.00" class="tk" text-anchor="middle">25.00</text>
<line x1="185.70" y1="263.7" x2="185.70" y2="264.7" stroke="#999" stroke-width="0.5"/>
<line x1="191.90" y1="263.7" x2="191.90" y2="264.7" stroke="#999" stroke-width="0.5"/>
<line x1="198.10" y1="263.7" x2="198.10" y2="264.7" stroke="#999" stroke-width="0.5"/>
<line x1="204.30" y1="263.7" x2="204.30" y2="264.7" stroke="#999" stroke-width="0.5"/>
<line x1="210.50" y1="263.7" x2="210.50" y2="265.7" stroke="#999" stroke-width="0.5"/>
<text x="210.50" y="271.00" class="tk" text-anchor="middle">30.00</text>
<line x1="216.70" y1="263.7" x2="216.70" y2="264.7" stroke="#999" stroke-width="0.5"/>
<line x1="222.90" y1="263.7" x2="222.90" y2="264.7" stroke="#999" stroke-width="0.5"/>
<line x1="229.10" y1="263.7" x2="229.10" y2="264.7" stroke="#999" stroke-width="0.5"/>
<line x1="235.30" y1="263.7" x2="235.30" y2="264.7" stroke="#999" stroke-width="0.5"/>
<line x1="241.50" y1="263.7" x2="241.50" y2="265.7" stroke="#999" stroke-width="0.5"/>
<text x="241.50" y="271.00" class="tk" text-anchor="middle">35.00</text>
<line x1="247.70" y1="263.7" x2="247.70" y2="264.7" stroke="#999" stroke-width="0.5"/>
<line x1="253.90" y1="263.7" x2="253.90" y2="264.7" stroke="#999" stroke-width="0.5"/>
<line x1="260.10" y1="263.7" x2="260.10" y2="264.7" stroke="#999" stroke-width="0.5"/>
<line x1="266.30" y1="263.7" x2="266.30" y2="264.7" stroke="#999" stroke-width="0.5"/>
<line x1="272.50" y1="263.7" x2="272.50" y2="265.7" stroke="#999" stroke-width="0.5"/>
<text x="272.50" y="271.00" class="tk" text-anchor="middle">40.00</text>
<line x1="278.70" y1="263.7" x2="278.70" y2="264.7" stroke="#999" stroke-width="0.5"/>
<line x1="284.90" y1="263.7" x2="284.90" y2="264.7" stroke="#999" stroke-width="0.5"/>
<line x1="291.10" y1="263.7" x2="291.10" y2="264.7" stroke="#999" stroke-width="0.5"/>
<line x1="297.30" y1="263.7" x2="297.30" y2="264.7" stroke="#999" stroke-width="0.5"/>
<line x1="303.50" y1="263.7" x2="303.50" y2="265.7" stroke="#999" stroke-width="0.5"/>
<text x="303.50" y="271.00" class="tk" text-anchor="middle">45.00</text>
<line x1="309.70" y1="263.7" x2="309.70" y2="264.7" stroke="#999" stroke-width="0.5"/>
<line x1="315.90" y1="263.7" x2="315.90" y2="264.7" stroke="#999" stroke-width="0.5"/>
<line x1="322.10" y1="263.7" x2="322.10" y2="264.7" stroke="#999" stroke-width="0.5"/>
<line x1="328.30" y1="263.7" x2="328.30" y2="264.7" stroke="#999" stroke-width="0.5"/>
<line x1="334.50" y1="263.7" x2="334.50" y2="265.7" stroke="#999" stroke-width="0.5"/>
<text x="334.50" y="271.00" class="tk" text-anchor="middle">50.00</text>
<line x1="340.70" y1="263.7" x2="340.70" y2="264.7" stroke="#999" stroke-width="0.5"/>
<line x1="346.90" y1="263.7" x2="346.90" y2="264.7" stroke="#999" stroke-width="0.5"/>
<line x1="353.10" y1="263.7" x2="353.10" y2="264.7" stroke="#999" stroke-width="0.5"/>
<line x1="359.30" y1="263.7" x2="359.30" y2="264.7" stroke="#999" stroke-width="0.5"/>
<line x1="365.50" y1="263.7" x2="365.50" y2="265.7" stroke="#999" stroke-width="0.5"/>
<text x="365.50" y="271.00" class="tk" text-anchor="middle">55.00</text>
<line x1="371.70" y1="263.7" x2="371.70" y2="264.7" stroke="#999" stroke-width="0.5"/>
<line x1="377.90" y1="263.7" x2="377.90" y2="264.7" stroke="#999" stroke-width="0.5"/>
<line x1="384.10" y1="263.7" x2="384.10" y2="264.7" stroke="#999" stroke-width="0.5"/>
<line x1="390.30" y1="263.7" x2="390.30" y2="264.7" stroke="#999" stroke-width="0.5"/>
<line x1="396.50" y1="263.7" x2="396.50" y2="265.7" stroke="#999" stroke-width="0.5"/>
<text x="396.50" y="271.00" class="tk" text-anchor="middle">60.00</text>
<polyline points="24.00,253.50 24.25,253.50 24.50,253.50 24.75,253.49 25.00,253.49 25.25,253.49 25.50,253.49 25.75,253.49 26.00,253.48 26.25,253.48 26.50,253.48 26.75,253.48 27.00,253.48 27.25,253.47 27.50,253.47 27.75,253.47 28.00,253.47 28.25,253.47 28.50,253.46 28.75,253.46 29.00,253.46 29.25,253.46 29.50,253.45 29.75,253.45 30.00,253.45 30.25,253.45 30.50,253.45 30.75,253.44 31.00,253.44 31.25,253.44 31.50,253.44 31.75,253.44 32.00,253.43 32.25,253.43 32.50,253.43 32.75,253.43 33.00,253.43 33.25,253.42 33.50,253.42 33.75,253.42 34.00,253.42 34.25,253.42 34.50,253.41 34.75,253.41 35.00,253.41 35.25,253.41 35.50,253.41 35.75,253.40 36.00,253.40 36.25,253.40 36.50,253.40 36.75,253.40 37.00,253.39 37.25,253.39 37.50,253.39 37.75,253.39 38.00,253.39 38.25,253.38 38.50,253.38 38.75,253.38 39.00,253.38 39.25,253.38 39.50,253.37 39.75,253.37 40.00,253.37 40.25,253.37 40.50,253.36 40.75,253.36 41.00,253.36 41.25,253.36 41.50,253.36 41.75,253.35 42.00,253.35 42.25,253.35 42.50,253.35 42.75,253.35 43.00,253.34 43.25,253.34 43.50,253.34 43.75,253.34 44.00,253.34 44.25,253.33 44.50,253.33 44.75,253.33 45.00,253.33 45.25,253.33 45.50,253.32 45.75,253.32 46.00,253.32 46.25,253.32 46.50,253.32 46.75,253.31 47.00,253.31 47.25,253.31 47.50,253.31 47.75,253.31 48.00,253.30 48.25,253.30 48.50,253.30 48.75,253.30 49.00,253.30 49.25,253.29 49.50,253.29 49.75,253.29 50.00,253.29 50.25,253.28 50.50,253.28 50.75,253.28 51.00,253.28 51.25,253.28 51.50,253.27 51.75,253.27 52.00,253.27 52.25,253.27 52.50,253.27 52.75,253.26 53.00,253.26 53.25,253.26 53.50,253.26 53.75,253.26 54.00,253.25 54.25,253.25 54.50,253.25 54.75,253.25 55.00,253.25 55.25,253.24 55.50,253.24 55.75,253.24 56.00,253.24 56.25,253.24 56.50,253.23 56.75,253.23 57.00,253.23 57.25,253.23 57.50,253.23 57.75,253.22 58.00,253.22 58.25,253.22 58.50,253.22 58.75,253.22 59.00,253.21 59.25,253.21 59.50,253.21 59.75,253.21 60.00,253.20 60.25,253.20 60.50,253.20 60.75,253.20 61.00,253.20 61.25,253.19 61.50,253.19 61.75,253.19 62.00,253.19 62.25,253.19 62.50,253.18 62.75,253.18 63.00,253.18 63.25,253.18 63.50,253.18 63.75,253.17 64.00,253.17 64.25,253.17 64.50,253.17 64.75,253.17 65.00,253.16 65.25,253.16 65.50,253.16 65.75,253.16 66.00,253.16 66.25,253.15 66.50,253.15 66.75,253.15 67.00,253.15 67.25,253.15 67.50,253.14 67.75,253.14 68.00,253.14 68.25,253.14 68.50,253.14 68.75,253.13 69.00,253.13 69.25,253.13 69.50,253.13 69.75,253.12 70.00,253.12 70.25,253.12 70.50,253.12 70.75,253.12 71.00,253.11 71.25,253.11 71.50,253.11 71.75,253.11 72.00,253.11 72.25,253.10 72.50,253.10 72.75,253.10 73.00,253.10 73.25,253.10 73.50,253.09 73.75,253.09 74.00,253.09 74.25,253.09 74.50,253.09 74.75,253.08 75.00,253.08 75.25,253.08 75.50,253.08 75.75,253.08 76.00,253.07 76.25,253.07 76.50,253.07 76.75,253.07 77.00,253.07 77.25,253.06 77.50,253.06 77.75,253.06 78.00,253.06 78.25,253.06 78.50,253.05 78.75,253.05 79.00,253.05 79.25,253.05 79.50,253.05 79.75,253.04 80.00,253.04 80.25,253.04 80.50,253.04 80.75,253.03 81.00,253.03 81.25,253.03 81.50,253.03 81.75,253.03 82.00,253.02 82.25,253.02 82.50,253.02 82.75,253.02 83.00,253.02 83.25,253.01 83.50,253.01 83.75,253.01 84.00,253.01 84.25,253.01 84.50,253.00 84.75,253.00 85.00,253.00 85.25,252.99 85.50,252.98 85.75,252.97 86.00,252.96 86.25,252.95 86.50,252.95 86.75,252.94 87.00,252.93 87.25,252.92 87.50,252.90 87.75,252.89 88.00,252.88 88.25,252.86 88.50,252.83 88.75,252.80 89.00,252.75 89.25,252.68 89.50,252.55 89.75,252.33 90.00,251.93 90.25,251.23" fill="none" stroke="#444" stroke-width="1.0" stroke-linejoin="round"/>
<polyline points="90.25,251.23 90.50,250.14 90.75,248.67 91.00,247.01 91.25,245.53" fill="none" stroke="#999" stroke-width="0.75" stroke-linejoin="round"/>
<polyline points="91.25,245.53 91.50,244.63 91.75,244.58 92.00,245.34" fill="none" stroke="#444" stroke-width="1.0" stroke-linejoin="round"/>
<polyline points="92.00,245.34 92.25,246.59 92.50,247.90 92.75,248.91" fill="none" stroke="#999" stroke-width="0.75" stroke-linejoin="round"/>
<polyline points="92.75,248.91 93.00,249.34 93.25,248.62" fill="none" stroke="#444" stroke-width="1.0" stroke-linejoin="round"/>
<polyline points="93.25,248.62 93.50,245.14 93.75,237.35 94.00,228.03 94.25,224.86 94.50,230.94 94.75,240.12 95.00,246.10 95.25,248.52" fill="none" stroke="#999" stroke-width="0.75" stroke-linejoin="round"/>
<polyline points="95.25,248.52 95.50,249.42 95.75,249.99 96.00,250.51 96.25,250.99 96.50,251.41 96.75,251.74 97.00,251.97 97.25,252.11 97.50,252.15 97.75,252.05 98.00,251.70 98.25,250.87" fill="none" stroke="#444" stroke-width="1.0" stroke-linejoin="round"/>
<polyline points="98.25,250.87 98.50,249.28 98.75,246.84 99.00,244.06 99.25,241.98" fill="none" stroke="#999" stroke-width="0.75" stroke-linejoin="round"/>
<polyline points="99.25,241.98 99.50,241.56" fill="none" stroke="#444" stroke-width="1.0" stroke-linejoin="round"/>
<polyline points="99.50,241.56 99.75,242.89 100.00,245.01 100.25,246.62" fill="none" stroke="#999" stroke-width="0.75" stroke-linejoin="round"/>
<polyline points="100.25,246.62 100.50,246.71" fill="none" stroke="#444" stroke-width="1.0" stroke-linejoin="round"/>
<polyline points="100.50,246.71 100.75,245.01 101.00,242.08 101.25,239.26 101.50,238.10 101.75,239.30 102.00,242.25 102.25,245.57 102.50,248.19 102.75,249.81" fill="none" stroke="#999" stroke-width="0.75" stroke-linejoin="round"/>
<polyline points="102.75,249.81 103.00,250.69 103.25,251.17 103.50,251.48 103.75,251.71 104.00,251.88 104.25,252.02 104.50,252.11 104.75,252.18 105.00,252.22 105.25,252.24 105.50,252.24 105.75,252.24 106.00,252.24 106.25,252.23 106.50,252.22 106.75,252.22 107.00,252.21 107.25,252.19 107.50,252.18 107.75,252.17 108.00,252.15 108.25,252.11 108.50,252.07 108.75,251.99 109.00,251.87 109.25,251.69 109.50,251.41 109.75,251.02 110.00,250.48 110.25,249.64" fill="none" stroke="#444" stroke-width="1.0" stroke-linejoin="round"/>
<polyline points="110.25,249.64 110.50,247.76 110.75,242.50 111.00,230.70 111.25,214.68 111.50,205.70 111.75,211.36 112.00,224.08 112.25,232.68 112.50,235.02" fill="none" stroke="#999" stroke-width="0.75" stroke-linejoin="round"/>
<polyline points="112.50,235.02 112.75,234.52 113.00,233.82 113.25,233.87" fill="none" stroke="#444" stroke-width="1.0" stroke-linejoin="round"/>
<polyline points="113.25,233.87 113.50,234.88 113.75,236.74 114.00,239.17 114.25,241.79 114.50,244.28 114.75,246.38 115.00,248.02 115.25,249.19" fill="none" stroke="#999" stroke-width="0.75" stroke-linejoin="round"/>
<polyline points="115.25,249.19 115.50,249.99 115.75,250.53 116.00,250.88 116.25,251.13 116.50,251.32 116.75,251.46 117.00,251.58 117.25,251.68 117.50,251.75 117.75,251.82 118.00,251.86 118.25,251.90 118.50,251.92 118.75,251.94 119.00,251.96 119.25,251.96 119.50,251.97 119.75,251.97 120.00,251.97 120.25,251.97 120.50,251.97 120.75,251.96 121.00,251.96 121.25,251.95 121.50,251.94 121.75,251.91 122.00,251.88 122.25,251.81 122.50,251.70 122.75,251.53 123.00,251.27 123.25,250.91 123.50,250.39 123.75,249.45" fill="none" stroke="#444" stroke-width="1.0" stroke-linejoin="round"/>
<polyline points="123.75,249.45 124.00,246.93 124.25,239.98 124.50,226.81 124.75,213.45 125.00,211.44 125.25,222.41 125.50,235.65 125.75,243.32 126.00,246.21 126.25,247.35" fill="none" stroke="#999" stroke-width="0.75" stroke-linejoin="round"/>
<polyline points="126.25,247.35 126.50,248.16 126.75,248.93 127.00,249.65 127.25,250.26 127.50,250.72 127.75,251.02 128.00,251.11 128.25,250.94 128.50,250.48 128.75,249.75 129.00,248.88 129.25,248.09 129.50,247.64 129.75,247.70 130.00,248.24 130.25,249.09 130.50,249.98 130.75,250.74 131.00,251.26 131.25,251.57 131.50,251.72 131.75,251.79 132.00,251.81 132.25,251.82 132.50,251.82 132.75,251.82 133.00,251.81 133.25,251.81 133.50,251.81 133.75,251.80 134.00,251.80 134.25,251.80 134.50,251.79 134.75,251.79 135.00,251.79 135.25,251.78 135.50,251.77 135.75,251.76 136.00,251.74 136.25,251.71 136.50,251.66 136.75,251.57 137.00,251.42 137.25,251.20 137.50,250.89 137.75,250.45 138.00,249.72" fill="none" stroke="#444" stroke-width="1.0" stroke-linejoin="round"/>
<polyline points="138.00,249.72 138.25,247.87 138.50,242.57 138.75,231.53 139.00,218.50 139.25,214.00 139.50,222.24 139.75,234.76 140.00,242.92 140.25,246.20 140.50,247.40" fill="none" stroke="#999" stroke-width="0.75" stroke-linejoin="round"/>
<polyline points="140.50,247.40 140.75,248.16 141.00,248.87 141.25,249.54 141.50,250.13 141.75,250.60 142.00,250.97 142.25,251.24 142.50,251.42 142.75,251.53 143.00,251.60 143.25,251.64 143.50,251.65 143.75,251.66 144.00,251.65 144.25,251.64 144.50,251.61 144.75,251.57 145.00,251.50 145.25,251.39 145.50,251.18 145.75,250.69" fill="none" stroke="#444" stroke-width="1.0" stroke-linejoin="round"/>
<polyline points="145.75,250.69 146.00,249.57 146.25,247.44 146.50,244.37 146.75,241.36 147.00,240.00 147.25,241.08 147.50,243.83 147.75,246.73 148.00,248.75 148.25,249.84" fill="none" stroke="#999" stroke-width="0.75" stroke-linejoin="round"/>
<polyline points="148.25,249.84 148.50,250.37 148.75,250.67 149.00,250.89 149.25,251.06 149.50,251.18 149.75,251.23 150.00,251.20 150.25,251.06 150.50,250.79 150.75,250.36 151.00,249.77 151.25,249.04 151.50,248.21 151.75,247.39 152.00,246.67 152.25,246.18 152.50,246.00 152.75,246.15 153.00,246.61 153.25,247.29 153.50,248.07 153.75,248.82 154.00,249.45 154.25,249.86 154.50,249.98 154.75,249.75 155.00,249.12" fill="none" stroke="#444" stroke-width="1.0" stroke-linejoin="round"/>
<polyline points="155.00,249.12 155.25,248.09 155.50,246.74 155.75,245.28 156.00,243.98" fill="none" stroke="#999" stroke-width="0.75" stroke-linejoin="round"/>
<polyline points="156.00,243.98 156.25,243.17 156.50,243.04 156.75,243.62" fill="none" stroke="#444" stroke-width="1.0" stroke-linejoin="round"/>
<polyline points="156.75,243.62 157.00,244.76 157.25,246.16 157.50,247.54 157.75,248.71" fill="none" stroke="#999" stroke-width="0.75" stroke-linejoin="round"/>
<polyline points="157.75,248.71 158.00,249.58 158.25,250.18 158.50,250.57 158.75,250.81 159.00,250.98 159.25,251.10 159.50,251.20 159.75,251.27 160.00,251.34 160.25,251.38 160.50,251.42 160.75,251.45 161.00,251.47 161.25,251.48 161.50,251.49 161.75,251.49 162.00,251.50 162.25,251.50 162.50,251.50 162.75,251.50 163.00,251.50 163.25,251.49 163.50,251.49 163.75,251.49 164.00,251.49 164.25,251.49 164.50,251.48 164.75,251.48 165.00,251.48 165.25,251.47 165.50,251.47 165.75,251.45 166.00,251.43 166.25,251.38 166.50,251.30 166.75,251.15 167.00,250.91 167.25,250.52 167.50,249.94 167.75,249.12" fill="none" stroke="#444" stroke-width="1.0" stroke-linejoin="round"/>
<polyline points="167.75,249.12 168.00,247.94 168.25,245.83 168.50,240.09 168.75,224.28 169.00,194.32 169.25,163.94 169.50,159.38 169.75,184.34 170.00,214.45 170.25,231.91 170.50,238.50 170.75,241.09 171.00,242.95 171.25,244.71 171.50,246.34 171.75,247.75 172.00,248.90" fill="none" stroke="#999" stroke-width="0.75" stroke-linejoin="round"/>
<polyline points="172.00,248.90 172.25,249.76 172.50,250.38 172.75,250.80 173.00,251.06 173.25,251.22 173.50,251.31 173.75,251.36 174.00,251.38 174.25,251.40 174.50,251.40 174.75,251.40 175.00,251.40 175.25,251.40 175.50,251.39 175.75,251.39 176.00,251.38 176.25,251.35 176.50,251.31 176.75,251.21 177.00,251.06 177.25,250.83 177.50,250.52 177.75,250.17 178.00,249.84 178.25,249.59 178.50,249.50 178.75,249.59 179.00,249.83 179.25,250.16 179.50,250.51 179.75,250.81 180.00,251.04 180.25,251.19 180.50,251.27 180.75,251.31 181.00,251.31 181.25,251.28 181.50,251.20 181.75,251.05 182.00,250.81 182.25,250.45 182.50,249.99 182.75,249.46 183.00,248.94 183.25,248.50 183.50,248.19 183.75,247.98 184.00,247.66" fill="none" stroke="#444" stroke-width="1.0" stroke-linejoin="round"/>
<polyline points="184.00,247.66 184.25,246.37 184.50,241.86 184.75,231.93 185.00,220.05 185.25,216.01 185.50,223.77 185.75,235.48 186.00,243.10 186.25,246.16 186.50,247.29" fill="none" stroke="#999" stroke-width="0.75" stroke-linejoin="round"/>
<polyline points="186.50,247.29 186.75,248.00 187.00,248.66 187.25,249.28 187.50,249.83 187.75,250.28 188.00,250.62 188.25,250.87 188.50,251.03 188.75,251.14 189.00,251.21 189.25,251.24 189.50,251.26 189.75,251.27 190.00,251.28 190.25,251.28 190.50,251.28 190.75,251.27 191.00,251.27 191.25,251.27 191.50,251.27 191.75,251.27 192.00,251.26 192.25,251.26 192.50,251.26 192.75,251.26 193.00,251.26 193.25,251.25 193.50,251.25 193.75,251.24 194.00,251.23 194.25,251.22 194.50,251.19 194.75,251.14 195.00,251.05 195.25,250.92 195.50,250.71 195.75,250.40 196.00,249.98 196.25,249.31" fill="none" stroke="#444" stroke-width="1.0" stroke-linejoin="round"/>
<polyline points="196.25,249.31 196.50,247.74 196.75,243.17 197.00,232.81 197.25,218.81 197.50,211.50 197.75,217.85 198.00,231.03 198.25,240.78 198.50,245.00 198.75,246.50" fill="none" stroke="#999" stroke-width="0.75" stroke-linejoin="round"/>
<polyline points="198.75,246.50 199.00,247.33 199.25,248.09 199.50,248.80 199.75,249.43 200.00,249.96 200.25,250.37 200.50,250.67 200.75,250.88 201.00,251.01 201.25,251.09 201.50,251.14 201.75,251.17 202.00,251.18 202.25,251.19 202.50,251.19 202.75,251.19 203.00,251.17 203.25,251.10 203.50,250.89 203.75,250.45 204.00,249.80 204.25,249.17 204.50,248.90 204.75,249.17 205.00,249.80 205.25,250.45 205.50,250.88 205.75,251.09 206.00,251.17 206.25,251.19 206.50,251.19 206.75,251.19 207.00,251.19 207.25,251.19 207.50,251.19 207.75,251.19 208.00,251.19 208.25,251.19 208.50,251.19 208.75,251.19 209.00,251.19 209.25,251.19 209.50,251.19 209.75,251.19 210.00,251.19 210.25,251.19 210.50,251.19 210.75,251.19 211.00,251.19 211.25,251.19 211.50,251.19 211.75,251.19 212.00,251.19 212.25,251.19 212.50,251.19 212.75,251.19 213.00,251.19 213.25,251.19 213.50,251.19 213.75,251.19 214.00,251.19 214.25,251.19 214.50,251.19 214.75,251.19 215.00,251.19 215.25,251.18 215.50,251.18 215.75,251.18 216.00,251.18 216.25,251.18 216.50,251.18 216.75,251.18 217.00,251.18 217.25,251.18 217.50,251.18 217.75,251.18 218.00,251.18 218.25,251.18 218.50,251.18 218.75,251.18 219.00,251.18 219.25,251.18 219.50,251.18 219.75,251.18 220.00,251.18 220.25,251.18 220.50,251.18 220.75,251.18 221.00,251.18 221.25,251.18 221.50,251.18 221.75,251.18 222.00,251.18 222.25,251.17 222.50,251.17 222.75,251.14 223.00,251.09 223.25,250.99 223.50,250.79 223.75,250.47 224.00,249.98 224.25,249.36 224.50,248.67 224.75,248.04 225.00,247.61 225.25,247.51 225.50,247.75 225.75,248.27 226.00,248.95 226.25,249.62 226.50,250.19 226.75,250.61 227.00,250.88 227.25,251.03 227.50,251.11 227.75,251.15 228.00,251.16 228.25,251.17 228.50,251.17 228.75,251.17 229.00,251.17 229.25,251.17 229.50,251.17 229.75,251.17 230.00,251.17 230.25,251.17 230.50,251.17 230.75,251.17 231.00,251.17 231.25,251.17 231.50,251.17 231.75,251.17 232.00,251.17 232.25,251.17 232.50,251.17 232.75,251.17 233.00,251.17 233.25,251.17 233.50,251.17 233.75,251.17 234.00,251.17 234.25,251.17 234.50,251.17 234.75,251.17 235.00,251.16 235.25,251.16 235.50,251.16 235.75,251.16 236.00,251.16 236.25,251.16 236.50,251.16 236.75,251.16 237.00,251.16 237.25,251.16 237.50,251.16 237.75,251.16 238.00,251.16 238.25,251.16 238.50,251.16 238.75,251.16 239.00,251.15 239.25,251.14 239.50,251.11 239.75,251.07 240.00,250.99 240.25,250.88 240.50,250.72 240.75,250.51 241.00,250.25 241.25,249.98 241.50,249.70 241.75,249.48 242.00,249.34 242.25,249.30 242.50,249.38 242.75,249.56 243.00,249.81 243.25,250.09 243.50,250.36 243.75,250.60 244.00,250.79 244.25,250.93 244.50,251.02 244.75,251.08 245.00,251.12 245.25,251.14 245.50,251.15 245.75,251.15 246.00,251.15 246.25,251.15 246.50,251.15 246.75,251.15 247.00,251.15 247.25,251.15 247.50,251.15 247.75,251.15 248.00,251.15 248.25,251.15 248.50,251.15 248.75,251.15 249.00,251.15 249.25,251.15 249.50,251.15 249.75,251.15 250.00,251.15 250.25,251.15 250.50,251.15 250.75,251.15 251.00,251.15 251.25,251.15 251.50,251.15 251.75,251.15 252.00,251.15 252.25,251.15 252.50,251.15 252.75,251.15 253.00,251.15 253.25,251.15 253.50,251.15 253.75,251.15 254.00,251.15 254.25,251.15 254.50,251.15 254.75,251.15 255.00,251.14 255.25,251.14 255.50,251.14 255.75,251.14 256.00,251.14 256.25,251.14 256.50,251.14 256.75,251.14 257.00,251.14 257.25,251.14 257.50,251.14 257.75,251.14 258.00,251.14 258.25,251.14 258.50,251.14 258.75,251.14 259.00,251.14 259.25,251.14 259.50,251.14 259.75,251.14 260.00,251.14 260.25,251.14 260.50,251.14 260.75,251.14 261.00,251.14 261.25,251.14 261.50,251.14 261.75,251.14 262.00,251.14 262.25,251.14 262.50,251.14 262.75,251.14 263.00,251.14 263.25,251.14 263.50,251.14 263.75,251.14 264.00,251.14 264.25,251.14 264.50,251.14 264.75,251.14 265.00,251.13 265.25,251.13 265.50,251.13 265.75,251.13 266.00,251.13 266.25,251.13 266.50,251.13 266.75,251.13 267.00,251.13 267.25,251.13 267.50,251.13 267.75,251.13 268.00,251.13 268.25,251.13 268.50,251.13 268.75,251.13 269.00,251.13 269.25,251.13 269.50,251.13 269.75,251.13 270.00,251.13 270.25,251.13 270.50,251.13 270.75,251.13 271.00,251.13 271.25,251.13 271.50,251.13 271.75,251.13 272.00,251.13 272.25,251.13 272.50,251.13 272.75,251.13 273.00,251.13 273.25,251.13 273.50,251.13 273.75,251.13 274.00,251.13 274.25,251.13 274.50,251.13 274.75,251.13 275.00,251.12 275.25,251.12 275.50,251.12 275.75,251.12 276.00,251.12 276.25,251.12 276.50,251.12 276.75,251.12 277.00,251.12 277.25,251.12 277.50,251.12 277.75,251.12 278.00,251.12 278.25,251.12 278.50,251.12 278.75,251.12 279.00,251.12 279.25,251.12 279.50,251.12 279.75,251.12 280.00,251.12 280.25,251.12 280.50,251.12 280.75,251.12 281.00,251.12 281.25,251.12 281.50,251.12 281.75,251.12 282.00,251.12 282.25,251.12 282.50,251.12 282.75,251.12 283.00,251.12 283.25,251.12 283.50,251.12 283.75,251.12 284.00,251.12 284.25,251.12 284.50,251.12 284.75,251.12 285.00,251.11 285.25,251.11 285.50,251.11 285.75,251.11 286.00,251.11 286.25,251.11 286.50,251.11 286.75,251.11 287.00,251.11 287.25,251.11 287.50,251.11 287.75,251.11 288.00,251.11 288.25,251.11 288.50,251.11 288.75,251.11 289.00,251.11 289.25,251.11 289.50,251.11 289.75,251.11 290.00,251.11 290.25,251.11 290.50,251.11 290.75,251.11 291.00,251.11 291.25,251.11 291.50,251.11 291.75,251.11 292.00,251.11 292.25,251.11 292.50,251.11 292.75,251.11 293.00,251.11 293.25,251.11 293.50,251.11 293.75,251.11 294.00,251.11 294.25,251.11 294.50,251.11 294.75,251.11 295.00,251.10 295.25,251.10 295.50,251.10 295.75,251.10 296.00,251.10 296.25,251.10 296.50,251.10 296.75,251.10 297.00,251.10 297.25,251.10 297.50,251.10 297.75,251.10 298.00,251.10 298.25,251.10 298.50,251.10 298.75,251.10 299.00,251.10 299.25,251.10 299.50,251.10 299.75,251.10 300.00,251.10 300.25,251.10 300.50,251.10 300.75,251.10 301.00,251.10 301.25,251.11 301.50,251.11 301.75,251.11 302.00,251.11 302.25,251.11 302.50,251.11 302.75,251.11 303.00,251.11 303.25,251.11 303.50,251.12 303.75,251.12 304.00,251.12 304.25,251.12 304.50,251.12 304.75,251.12 305.00,251.12 305.25,251.12 305.50,251.12 305.75,251.13 306.00,251.13 306.25,251.13 306.50,251.13 306.75,251.13 307.00,251.13 307.25,251.13 307.50,251.13 307.75,251.14 308.00,251.14 308.25,251.14 308.50,251.14 308.75,251.14 309.00,251.14 309.25,251.14 309.50,251.14 309.75,251.14 310.00,251.15 310.25,251.15 310.50,251.15 310.75,251.15 311.00,251.15 311.25,251.15 311.50,251.15 311.75,251.15 312.00,251.15 312.25,251.16 312.50,251.16 312.75,251.16 313.00,251.16 313.25,251.16 313.50,251.16 313.75,251.16 314.00,251.16 314.25,251.16 314.50,251.17 314.75,251.17 315.00,251.17 315.25,251.16 315.50,251.16 315.75,251.15 316.00,251.13 316.25,251.10 316.50,251.06 316.75,250.98 317.00,250.89 317.25,250.77 317.50,250.64 317.75,250.51 318.00,250.40 318.25,250.33 318.50,250.30 318.75,250.33 319.00,250.41 319.25,250.52 319.50,250.65 319.75,250.79 320.00,250.90 320.25,251.00 320.50,251.07 320.75,251.12 321.00,251.16 321.25,251.18 321.50,251.19 321.75,251.19 322.00,251.20 322.25,251.20 322.50,251.20 322.75,251.20 323.00,251.20 323.25,251.21 323.50,251.21 323.75,251.21 324.00,251.21 324.25,251.21 324.50,251.21 324.75,251.21 325.00,251.21 325.25,251.21 325.50,251.22 325.75,251.22 326.00,251.22 326.25,251.22 326.50,251.22 326.75,251.22 327.00,251.22 327.25,251.22 327.50,251.22 327.75,251.23 328.00,251.23 328.25,251.23 328.50,251.23 328.75,251.23 329.00,251.23 329.25,251.23 329.50,251.23 329.75,251.24 330.00,251.24 330.25,251.24 330.50,251.24 330.75,251.24 331.00,251.24 331.25,251.24 331.50,251.24 331.75,251.24 332.00,251.25 332.25,251.25 332.50,251.25 332.75,251.25 333.00,251.25 333.25,251.25 333.50,251.25 333.75,251.25 334.00,251.25 334.25,251.26 334.50,251.26 334.75,251.26 335.00,251.26 335.25,251.26 335.50,251.26 335.75,251.26 336.00,251.26 336.25,251.26 336.50,251.27 336.75,251.27 337.00,251.27 337.25,251.27 337.50,251.27 337.75,251.27 338.00,251.27 338.25,251.27 338.50,251.28 338.75,251.28 339.00,251.28 339.25,251.28 339.50,251.28 339.75,251.28 340.00,251.28 340.25,251.28 340.50,251.28 340.75,251.29 341.00,251.29 341.25,251.29 341.50,251.29 341.75,251.29 342.00,251.29 342.25,251.29 342.50,251.29 342.75,251.29 343.00,251.30 343.25,251.30 343.50,251.30 343.75,251.30 344.00,251.30 344.25,251.36 344.50,251.42 344.75,251.47 345.00,251.53 345.25,251.59 345.50,251.65 345.75,251.70 346.00,251.76 346.25,251.82 346.50,251.88 346.75,251.93 347.00,251.99 347.25,252.05 347.50,252.11 347.75,252.17 348.00,252.22 348.25,252.28 348.50,252.34 348.75,252.40 349.00,252.45 349.25,252.51 349.50,252.57 349.75,252.63 350.00,252.68 350.25,252.74 350.50,252.80 350.75,252.86 351.00,252.92 351.25,252.97 351.50,253.03 351.75,253.09 352.00,253.15 352.25,253.20 352.50,253.26 352.75,253.32 353.00,253.38 353.25,253.43 353.50,253.49 353.75,253.55 354.00,253.61 354.25,253.67 354.50,253.72 354.75,253.78 355.00,253.84 355.25,253.90 355.50,253.95 355.75,254.01 356.00,254.07 356.25,254.13 356.50,254.18 356.75,254.24 357.00,254.30 357.25,254.30 357.50,254.30 357.75,254.30 358.00,254.30 358.25,254.30 358.50,254.30 358.75,254.30 359.00,254.30 359.25,254.30 359.50,254.30 359.75,254.30 360.00,254.30 360.25,254.30 360.50,254.30 360.75,254.30 361.00,254.30 361.25,254.30 361.50,254.30 361.75,254.30 362.00,254.30 362.25,254.30 362.50,254.30 362.75,254.30 363.00,254.30 363.25,254.30 363.50,254.30 363.75,254.30 364.00,254.30 364.25,254.30 364.50,254.30 364.75,254.30 365.00,254.30 365.25,254.30 365.50,254.30 365.75,254.30 366.00,254.30 366.25,254.30 366.50,254.30 366.75,254.30 367.00,254.30 367.25,254.30 367.50,254.30 367.75,254.30 368.00,254.30 368.25,254.30 368.50,254.30 368.75,254.30 369.00,254.30 369.25,254.30 369.50,254.30 369.75,254.30 370.00,254.30 370.25,254.30 370.50,254.30 370.75,254.30 371.00,254.30 371.25,254.30 371.50,254.30 371.75,254.30 372.00,254.30 372.25,254.30 372.50,254.30 372.75,254.30 373.00,254.30 373.25,254.30 373.50,254.30 373.75,254.30 374.00,254.30 374.25,254.30 374.50,254.30 374.75,254.30 375.00,254.30 375.25,254.30 375.50,254.30 375.75,254.30 376.00,254.30 376.25,254.30 376.50,254.30 376.75,254.30 377.00,254.30 377.25,254.30 377.50,254.30 377.75,254.30 378.00,254.30 378.25,254.30 378.50,254.30 378.75,254.30 379.00,254.30 379.25,254.30 379.50,254.30 379.75,254.30 380.00,254.30 380.25,254.30 380.50,254.30 380.75,254.30 381.00,254.30 381.25,254.30 381.50,254.30 381.75,254.30 382.00,254.30 382.25,254.30 382.50,254.30 382.75,254.30 383.00,254.30 383.25,254.30 383.50,254.30 383.75,254.30 384.00,254.30 384.25,254.30 384.50,254.30 384.75,254.30 385.00,254.30 385.25,254.30 385.50,254.30 385.75,254.30 386.00,254.30 386.25,254.30 386.50,254.30 386.75,254.30 387.00,254.30 387.25,254.30 387.50,254.30 387.75,254.30 388.00,254.30 388.25,254.30 388.50,254.30 388.75,254.30 389.00,254.30 389.25,254.30 389.50,254.30 389.75,254.30 390.00,254.30 390.25,254.30 390.50,254.30 390.75,254.30 391.00,254.30 391.25,254.30 391.50,254.30 391.75,254.30 392.00,254.30 392.25,254.30 392.50,254.30 392.75,254.30 393.00,254.30 393.25,254.30 393.50,254.30 393.75,254.30 394.00,254.30 394.25,254.30 394.50,254.30 394.75,254.30 395.00,254.30 395.25,254.30 395.50,254.30 395.75,254.30 396.00,254.30 396.25,254.30" fill="none" stroke="#444" stroke-width="1.0" stroke-linejoin="round"/>
<path d="M43.40 249.00L44.15 250.60L43.40 253.00L42.65 250.60Z" fill="#333"/>
<line x1="43.70" y1="253.00" x2="43.90" y2="253.40" stroke="#bbb" stroke-width="0.6"/>
<line x1="44.00" y1="253.40" x2="44.00" y2="258.50" stroke="#777" stroke-width="0.9"/>
<text transform="translate(91.20 240.10) scale(0.92 1)" class="pk" text-anchor="middle">1</text>
<text transform="translate(94.60 224.70) scale(0.92 1)" class="pk" text-anchor="middle">2</text>
<text transform="translate(99.10 235.20) scale(0.92 1)" class="pk" text-anchor="middle">4</text>
<text transform="translate(102.80 235.20) scale(0.92 1)" class="pk" text-anchor="middle">5</text>
<text transform="translate(112.00 201.60) scale(0.92 1)" class="pk" text-anchor="middle">8</text>
<text transform="translate(116.10 228.80) scale(0.92 1)" class="pk" text-anchor="middle">9</text>
<text transform="translate(119.00 247.50) scale(0.92 1)" class="pk" text-anchor="middle">10</text>
<text transform="translate(125.20 210.00) scale(0.92 1)" class="pk" text-anchor="middle">11</text>
<text transform="translate(131.30 243.80) scale(0.92 1)" class="pk" text-anchor="middle">12</text>
<text transform="translate(139.60 209.20) scale(0.92 1)" class="pk" text-anchor="middle">13</text>
<text transform="translate(147.60 233.90) scale(0.92 1)" class="pk" text-anchor="middle">15</text>
<text transform="translate(153.20 243.30) scale(0.92 1)" class="pk" text-anchor="middle">16</text>
<text transform="translate(157.40 234.50) scale(0.92 1)" class="pk" text-anchor="middle">17</text>
<text transform="translate(170.20 160.30) scale(0.92 1)" class="pk" text-anchor="middle">21</text>
<text transform="translate(178.20 248.80) scale(0.92 1)" class="pk" text-anchor="middle">23</text>
<text transform="translate(181.50 243.30) scale(0.92 1)" class="pk" text-anchor="middle">24</text>
<text transform="translate(185.80 211.40) scale(0.92 1)" class="pk" text-anchor="middle">25</text>
<text transform="translate(197.50 204.70) scale(0.92 1)" class="pk" text-anchor="middle">26</text>
<text transform="translate(206.00 244.80) scale(0.92 1)" class="pk" text-anchor="middle">27</text>
<text x="385.8" y="171.60" class="ti" text-anchor="end">Xiaofangshi peel</text>
<text transform="translate(6.8 207.70) rotate(-90)" class="au" text-anchor="middle">AU</text>
<rect x="186.8" y="266.9" width="32" height="8" fill="#fff"/>
<text x="189.6" y="271.80" class="mn">minute</text>
<text x="207.6" y="274.40" class="sm">1/100</text>
<line x1="24.3" y1="287.5" x2="396.3" y2="287.5" stroke="#cdcdcd" stroke-width="1.4"/>
<line x1="396.3" y1="287.5" x2="396.3" y2="401.2" stroke="#cdcdcd" stroke-width="1"/>
<line x1="24.3" y1="287.5" x2="24.3" y2="399.2" stroke="#b4b4b4" stroke-width="0.7"/>
<line x1="24.3" y1="399.2" x2="396.3" y2="399.2" stroke="#b4b4b4" stroke-width="0.9"/>
<text x="22.0" y="295.05" class="tk" text-anchor="end">0.050</text>
<line x1="22.5" y1="293.30" x2="24.3" y2="293.30" stroke="#999" stroke-width="0.6"/>
<text x="22.0" y="313.91" class="tk" text-anchor="end">0.040</text>
<line x1="22.5" y1="312.16" x2="24.3" y2="312.16" stroke="#999" stroke-width="0.6"/>
<text x="22.0" y="332.77" class="tk" text-anchor="end">0.030</text>
<line x1="22.5" y1="331.02" x2="24.3" y2="331.02" stroke="#999" stroke-width="0.6"/>
<text x="22.0" y="351.63" class="tk" text-anchor="end">0.020</text>
<line x1="22.5" y1="349.88" x2="24.3" y2="349.88" stroke="#999" stroke-width="0.6"/>
<text x="22.0" y="370.49" class="tk" text-anchor="end">0.010</text>
<line x1="22.5" y1="368.74" x2="24.3" y2="368.74" stroke="#999" stroke-width="0.6"/>
<text x="22.0" y="389.35" class="tk" text-anchor="end">0.000</text>
<line x1="22.5" y1="387.60" x2="24.3" y2="387.60" stroke="#999" stroke-width="0.6"/>
<line x1="23.3" y1="289.53" x2="24.3" y2="289.53" stroke="#999" stroke-width="0.5"/>
<line x1="23.3" y1="297.07" x2="24.3" y2="297.07" stroke="#999" stroke-width="0.5"/>
<line x1="23.3" y1="300.84" x2="24.3" y2="300.84" stroke="#999" stroke-width="0.5"/>
<line x1="23.3" y1="304.62" x2="24.3" y2="304.62" stroke="#999" stroke-width="0.5"/>
<line x1="23.3" y1="308.39" x2="24.3" y2="308.39" stroke="#999" stroke-width="0.5"/>
<line x1="23.3" y1="315.93" x2="24.3" y2="315.93" stroke="#999" stroke-width="0.5"/>
<line x1="23.3" y1="319.70" x2="24.3" y2="319.70" stroke="#999" stroke-width="0.5"/>
<line x1="23.3" y1="323.48" x2="24.3" y2="323.48" stroke="#999" stroke-width="0.5"/>
<line x1="23.3" y1="327.25" x2="24.3" y2="327.25" stroke="#999" stroke-width="0.5"/>
<line x1="23.3" y1="334.79" x2="24.3" y2="334.79" stroke="#999" stroke-width="0.5"/>
<line x1="23.3" y1="338.56" x2="24.3" y2="338.56" stroke="#999" stroke-width="0.5"/>
<line x1="23.3" y1="342.34" x2="24.3" y2="342.34" stroke="#999" stroke-width="0.5"/>
<line x1="23.3" y1="346.11" x2="24.3" y2="346.11" stroke="#999" stroke-width="0.5"/>
<line x1="23.3" y1="353.65" x2="24.3" y2="353.65" stroke="#999" stroke-width="0.5"/>
<line x1="23.3" y1="357.42" x2="24.3" y2="357.42" stroke="#999" stroke-width="0.5"/>
<line x1="23.3" y1="361.20" x2="24.3" y2="361.20" stroke="#999" stroke-width="0.5"/>
<line x1="23.3" y1="364.97" x2="24.3" y2="364.97" stroke="#999" stroke-width="0.5"/>
<line x1="23.3" y1="372.51" x2="24.3" y2="372.51" stroke="#999" stroke-width="0.5"/>
<line x1="23.3" y1="376.28" x2="24.3" y2="376.28" stroke="#999" stroke-width="0.5"/>
<line x1="23.3" y1="380.06" x2="24.3" y2="380.06" stroke="#999" stroke-width="0.5"/>
<line x1="23.3" y1="383.83" x2="24.3" y2="383.83" stroke="#999" stroke-width="0.5"/>
<line x1="23.3" y1="391.37" x2="24.3" y2="391.37" stroke="#999" stroke-width="0.5"/>
<line x1="23.3" y1="395.14" x2="24.3" y2="395.14" stroke="#999" stroke-width="0.5"/>
<line x1="23.3" y1="398.92" x2="24.3" y2="398.92" stroke="#999" stroke-width="0.5"/>
<line x1="24.70" y1="399.2" x2="24.70" y2="401.2" stroke="#999" stroke-width="0.5"/>
<text x="24.70" y="406.50" class="tk" text-anchor="middle">0.00</text>
<line x1="30.90" y1="399.2" x2="30.90" y2="400.2" stroke="#999" stroke-width="0.5"/>
<line x1="37.09" y1="399.2" x2="37.09" y2="400.2" stroke="#999" stroke-width="0.5"/>
<line x1="43.29" y1="399.2" x2="43.29" y2="400.2" stroke="#999" stroke-width="0.5"/>
<line x1="49.49" y1="399.2" x2="49.49" y2="400.2" stroke="#999" stroke-width="0.5"/>
<line x1="55.68" y1="399.2" x2="55.68" y2="401.2" stroke="#999" stroke-width="0.5"/>
<text x="55.68" y="406.50" class="tk" text-anchor="middle">5.00</text>
<line x1="61.88" y1="399.2" x2="61.88" y2="400.2" stroke="#999" stroke-width="0.5"/>
<line x1="68.08" y1="399.2" x2="68.08" y2="400.2" stroke="#999" stroke-width="0.5"/>
<line x1="74.27" y1="399.2" x2="74.27" y2="400.2" stroke="#999" stroke-width="0.5"/>
<line x1="80.47" y1="399.2" x2="80.47" y2="400.2" stroke="#999" stroke-width="0.5"/>
<line x1="86.67" y1="399.2" x2="86.67" y2="401.2" stroke="#999" stroke-width="0.5"/>
<text x="86.67" y="406.50" class="tk" text-anchor="middle">10.00</text>
<line x1="92.86" y1="399.2" x2="92.86" y2="400.2" stroke="#999" stroke-width="0.5"/>
<line x1="99.06" y1="399.2" x2="99.06" y2="400.2" stroke="#999" stroke-width="0.5"/>
<line x1="105.26" y1="399.2" x2="105.26" y2="400.2" stroke="#999" stroke-width="0.5"/>
<line x1="111.45" y1="399.2" x2="111.45" y2="400.2" stroke="#999" stroke-width="0.5"/>
<line x1="117.65" y1="399.2" x2="117.65" y2="401.2" stroke="#999" stroke-width="0.5"/>
<text x="117.65" y="406.50" class="tk" text-anchor="middle">15.00</text>
<line x1="123.85" y1="399.2" x2="123.85" y2="400.2" stroke="#999" stroke-width="0.5"/>
<line x1="130.04" y1="399.2" x2="130.04" y2="400.2" stroke="#999" stroke-width="0.5"/>
<line x1="136.24" y1="399.2" x2="136.24" y2="400.2" stroke="#999" stroke-width="0.5"/>
<line x1="142.44" y1="399.2" x2="142.44" y2="400.2" stroke="#999" stroke-width="0.5"/>
<line x1="148.63" y1="399.2" x2="148.63" y2="401.2" stroke="#999" stroke-width="0.5"/>
<text x="148.63" y="406.50" class="tk" text-anchor="middle">20.00</text>
<line x1="154.83" y1="399.2" x2="154.83" y2="400.2" stroke="#999" stroke-width="0.5"/>
<line x1="161.03" y1="399.2" x2="161.03" y2="400.2" stroke="#999" stroke-width="0.5"/>
<line x1="167.22" y1="399.2" x2="167.22" y2="400.2" stroke="#999" stroke-width="0.5"/>
<line x1="173.42" y1="399.2" x2="173.42" y2="400.2" stroke="#999" stroke-width="0.5"/>
<line x1="179.62" y1="399.2" x2="179.62" y2="401.2" stroke="#999" stroke-width="0.5"/>
<text x="179.62" y="406.50" class="tk" text-anchor="middle">25.00</text>
<line x1="185.81" y1="399.2" x2="185.81" y2="400.2" stroke="#999" stroke-width="0.5"/>
<line x1="192.01" y1="399.2" x2="192.01" y2="400.2" stroke="#999" stroke-width="0.5"/>
<line x1="198.21" y1="399.2" x2="198.21" y2="400.2" stroke="#999" stroke-width="0.5"/>
<line x1="204.40" y1="399.2" x2="204.40" y2="400.2" stroke="#999" stroke-width="0.5"/>
<line x1="210.60" y1="399.2" x2="210.60" y2="401.2" stroke="#999" stroke-width="0.5"/>
<text x="210.60" y="406.50" class="tk" text-anchor="middle">30.00</text>
<line x1="216.80" y1="399.2" x2="216.80" y2="400.2" stroke="#999" stroke-width="0.5"/>
<line x1="222.99" y1="399.2" x2="222.99" y2="400.2" stroke="#999" stroke-width="0.5"/>
<line x1="229.19" y1="399.2" x2="229.19" y2="400.2" stroke="#999" stroke-width="0.5"/>
<line x1="235.39" y1="399.2" x2="235.39" y2="400.2" stroke="#999" stroke-width="0.5"/>
<line x1="241.58" y1="399.2" x2="241.58" y2="401.2" stroke="#999" stroke-width="0.5"/>
<text x="241.58" y="406.50" class="tk" text-anchor="middle">35.00</text>
<line x1="247.78" y1="399.2" x2="247.78" y2="400.2" stroke="#999" stroke-width="0.5"/>
<line x1="253.98" y1="399.2" x2="253.98" y2="400.2" stroke="#999" stroke-width="0.5"/>
<line x1="260.17" y1="399.2" x2="260.17" y2="400.2" stroke="#999" stroke-width="0.5"/>
<line x1="266.37" y1="399.2" x2="266.37" y2="400.2" stroke="#999" stroke-width="0.5"/>
<line x1="272.57" y1="399.2" x2="272.57" y2="401.2" stroke="#999" stroke-width="0.5"/>
<text x="272.57" y="406.50" class="tk" text-anchor="middle">40.00</text>
<line x1="278.76" y1="399.2" x2="278.76" y2="400.2" stroke="#999" stroke-width="0.5"/>
<line x1="284.96" y1="399.2" x2="284.96" y2="400.2" stroke="#999" stroke-width="0.5"/>
<line x1="291.16" y1="399.2" x2="291.16" y2="400.2" stroke="#999" stroke-width="0.5"/>
<line x1="297.35" y1="399.2" x2="297.35" y2="400.2" stroke="#999" stroke-width="0.5"/>
<line x1="303.55" y1="399.2" x2="303.55" y2="401.2" stroke="#999" stroke-width="0.5"/>
<text x="303.55" y="406.50" class="tk" text-anchor="middle">45.00</text>
<line x1="309.75" y1="399.2" x2="309.75" y2="400.2" stroke="#999" stroke-width="0.5"/>
<line x1="315.94" y1="399.2" x2="315.94" y2="400.2" stroke="#999" stroke-width="0.5"/>
<line x1="322.14" y1="399.2" x2="322.14" y2="400.2" stroke="#999" stroke-width="0.5"/>
<line x1="328.34" y1="399.2" x2="328.34" y2="400.2" stroke="#999" stroke-width="0.5"/>
<line x1="334.53" y1="399.2" x2="334.53" y2="401.2" stroke="#999" stroke-width="0.5"/>
<text x="334.53" y="406.50" class="tk" text-anchor="middle">50.00</text>
<line x1="340.73" y1="399.2" x2="340.73" y2="400.2" stroke="#999" stroke-width="0.5"/>
<line x1="346.93" y1="399.2" x2="346.93" y2="400.2" stroke="#999" stroke-width="0.5"/>
<line x1="353.12" y1="399.2" x2="353.12" y2="400.2" stroke="#999" stroke-width="0.5"/>
<line x1="359.32" y1="399.2" x2="359.32" y2="400.2" stroke="#999" stroke-width="0.5"/>
<line x1="365.52" y1="399.2" x2="365.52" y2="401.2" stroke="#999" stroke-width="0.5"/>
<text x="365.52" y="406.50" class="tk" text-anchor="middle">55.00</text>
<line x1="371.71" y1="399.2" x2="371.71" y2="400.2" stroke="#999" stroke-width="0.5"/>
<line x1="377.91" y1="399.2" x2="377.91" y2="400.2" stroke="#999" stroke-width="0.5"/>
<line x1="384.11" y1="399.2" x2="384.11" y2="400.2" stroke="#999" stroke-width="0.5"/>
<line x1="390.30" y1="399.2" x2="390.30" y2="400.2" stroke="#999" stroke-width="0.5"/>
<line x1="396.50" y1="399.2" x2="396.50" y2="401.2" stroke="#999" stroke-width="0.5"/>
<text x="396.50" y="406.50" class="tk" text-anchor="middle">60.00</text>
<polyline points="24.30,387.40 24.55,387.40 24.80,387.40 25.05,387.39 25.30,387.39 25.55,387.39 25.80,387.39 26.05,387.39 26.30,387.39 26.55,387.38 26.80,387.38 27.05,387.38 27.30,387.38 27.55,387.38 27.80,387.37 28.05,387.37 28.30,387.37 28.55,387.37 28.80,387.37 29.05,387.37 29.30,387.36 29.55,387.36 29.80,387.36 30.05,387.36 30.30,387.36 30.55,387.36 30.80,387.35 31.05,387.35 31.30,387.35 31.55,387.35 31.80,387.35 32.05,387.34 32.30,387.34 32.55,387.34 32.80,387.34 33.05,387.34 33.30,387.34 33.55,387.33 33.80,387.33 34.05,387.33 34.30,387.33 34.55,387.33 34.80,387.32 35.05,387.32 35.30,387.32 35.55,387.32 35.80,387.32 36.05,387.32 36.30,387.31 36.55,387.31 36.80,387.31 37.05,387.31 37.30,387.31 37.55,387.30 37.80,387.30 38.05,387.30 38.30,387.30 38.55,387.30 38.80,387.30 39.05,387.29 39.30,387.29 39.55,387.29 39.80,387.29 40.05,387.29 40.30,387.29 40.55,387.28 40.80,387.28 41.05,387.28 41.30,387.28 41.55,387.28 41.80,387.27 42.05,387.27 42.30,387.27 42.55,387.27 42.80,387.27 43.05,387.27 43.30,387.26 43.55,387.26 43.80,387.26 44.05,387.26 44.30,387.26 44.55,387.25 44.80,387.25 45.05,387.25 45.30,387.25 45.55,387.25 45.80,387.25 46.05,387.24 46.30,387.24 46.55,387.24 46.80,387.24 47.05,387.24 47.30,387.23 47.55,387.23 47.80,387.23 48.05,387.23 48.30,387.23 48.55,387.23 48.80,387.22 49.05,387.22 49.30,387.22 49.55,387.22 49.80,387.22 50.05,387.22 50.30,387.21 50.55,387.21 50.80,387.21 51.05,387.21 51.30,387.21 51.55,387.20 51.80,387.20 52.05,387.20 52.30,387.20 52.55,387.20 52.80,387.20 53.05,387.19 53.30,387.19 53.55,387.19 53.80,387.19 54.05,387.19 54.30,387.18 54.55,387.18 54.80,387.18 55.05,387.18 55.30,387.18 55.55,387.18 55.80,387.17 56.05,387.17 56.30,387.17 56.55,387.17 56.80,387.17 57.05,387.16 57.30,387.16 57.55,387.16 57.80,387.16 58.05,387.16 58.30,387.16 58.55,387.15 58.80,387.15 59.05,387.15 59.30,387.15 59.55,387.15 59.80,387.15 60.05,387.14 60.30,387.14 60.55,387.14 60.80,387.14 61.05,387.14 61.30,387.13 61.55,387.13 61.80,387.13 62.05,387.13 62.30,387.13 62.55,387.13 62.80,387.12 63.05,387.12 63.30,387.12 63.55,387.12 63.80,387.12 64.05,387.11 64.30,387.11 64.55,387.11 64.80,387.11 65.05,387.11 65.30,387.11 65.55,387.10 65.80,387.10 66.05,387.10 66.30,387.10 66.55,387.10 66.80,387.09 67.05,387.09 67.30,387.09 67.55,387.09 67.80,387.09 68.05,387.09 68.30,387.08 68.55,387.08 68.80,387.08 69.05,387.08 69.30,387.08 69.55,387.08 69.80,387.07 70.05,387.07 70.30,387.07 70.55,387.07 70.80,387.07 71.05,387.06 71.30,387.06 71.55,387.06 71.80,387.06 72.05,387.06 72.30,387.06 72.55,387.05 72.80,387.05 73.05,387.05 73.30,387.05 73.55,387.05 73.80,387.04 74.05,387.04 74.30,387.04 74.55,387.04 74.80,387.04 75.05,387.04 75.30,387.03 75.55,387.03 75.80,387.03 76.05,387.03 76.30,387.03 76.55,387.02 76.80,387.02 77.05,387.02 77.30,387.02 77.55,387.02 77.80,387.02 78.05,387.01 78.30,387.01 78.55,387.01 78.80,387.01 79.05,387.01 79.30,387.01 79.55,387.00 79.80,387.00 80.05,387.00 80.30,387.00 80.55,386.99 80.80,386.99 81.05,386.99 81.30,386.98 81.55,386.98 81.80,386.97 82.05,386.97 82.30,386.97 82.55,386.96 82.80,386.96 83.05,386.96 83.30,386.95 83.55,386.95 83.80,386.95 84.05,386.94 84.30,386.94 84.55,386.93 84.80,386.93 85.05,386.93 85.30,386.92 85.55,386.92 85.80,386.92 86.05,386.91 86.30,386.91 86.55,386.91 86.80,386.90 87.05,386.90 87.30,386.90 87.55,386.89 87.80,386.89 88.05,386.88 88.30,386.87 88.55,386.86 88.80,386.84 89.05,386.80 89.30,386.75 89.55,386.67 89.80,386.54 90.05,386.27 90.30,385.65" fill="none" stroke="#444" stroke-width="1.0" stroke-linejoin="round"/>
<polyline points="90.30,385.65 90.55,384.26 90.80,381.73 91.05,378.31 91.30,375.30" fill="none" stroke="#999" stroke-width="0.75" stroke-linejoin="round"/>
<polyline points="91.30,375.30 91.55,374.32" fill="none" stroke="#444" stroke-width="1.0" stroke-linejoin="round"/>
<polyline points="91.55,374.32 91.80,375.91 92.05,378.97 92.30,381.86 92.55,383.68" fill="none" stroke="#999" stroke-width="0.75" stroke-linejoin="round"/>
<polyline points="92.55,383.68 92.80,384.45 93.05,384.37" fill="none" stroke="#444" stroke-width="1.0" stroke-linejoin="round"/>
<polyline points="93.05,384.37 93.30,383.24 93.55,380.55 93.80,376.53 94.05,373.10" fill="none" stroke="#999" stroke-width="0.75" stroke-linejoin="round"/>
<polyline points="94.05,373.10 94.30,372.68" fill="none" stroke="#444" stroke-width="1.0" stroke-linejoin="round"/>
<polyline points="94.30,372.68 94.55,375.57 94.80,379.65 95.05,382.75 95.30,384.38" fill="none" stroke="#999" stroke-width="0.75" stroke-linejoin="round"/>
<polyline points="95.30,384.38 95.55,385.09 95.80,385.45 96.05,385.70 96.30,385.90 96.55,386.03 96.80,386.09 97.05,386.08 97.30,386.00 97.55,385.88 97.80,385.73 98.05,385.61 98.30,385.52 98.55,385.50 98.80,385.54 99.05,385.63 99.30,385.72 99.55,385.74 99.80,385.60 100.05,385.21 100.30,384.56 100.55,383.72 100.80,382.91 101.05,382.39 101.30,382.35 101.55,382.81 101.80,383.58 102.05,384.36 102.30,384.87 102.55,384.92 102.80,384.57 103.05,384.06 103.30,383.72 103.55,383.80 103.80,384.31 104.05,385.02 104.30,385.70 104.55,386.18 104.80,386.45 105.05,386.58 105.30,386.62 105.55,386.63 105.80,386.63 106.05,386.63 106.30,386.62 106.55,386.62 106.80,386.62 107.05,386.61 107.30,386.61 107.55,386.60 107.80,386.60 108.05,386.59 108.30,386.57 108.55,386.53 108.80,386.47 109.05,386.38 109.30,386.22 109.55,385.98 109.80,385.62 110.05,385.13 110.30,384.38" fill="none" stroke="#444" stroke-width="1.0" stroke-linejoin="round"/>
<polyline points="110.30,384.38 110.55,382.78 110.80,378.15 111.05,366.78 111.30,349.44 111.55,337.50 111.80,342.18 112.05,358.12 112.30,371.71 112.55,378.13 112.80,380.40 113.05,381.50" fill="none" stroke="#999" stroke-width="0.75" stroke-linejoin="round"/>
<polyline points="113.05,381.50 113.30,382.45 113.55,383.35 113.80,384.16 114.05,384.85 114.30,385.38 114.55,385.78 114.80,386.06 115.05,386.24 115.30,386.35 115.55,386.41 115.80,386.45 116.05,386.47 116.30,386.47 116.55,386.47 116.80,386.47 117.05,386.47 117.30,386.47 117.55,386.46 117.80,386.46 118.05,386.46 118.30,386.45 118.55,386.45 118.80,386.45 119.05,386.44 119.30,386.44 119.55,386.43 119.80,386.43 120.05,386.43 120.30,386.42 120.55,386.42 120.80,386.42 121.05,386.41 121.30,386.41 121.55,386.40 121.80,386.39 122.05,386.38 122.30,386.35 122.55,386.29 122.80,386.19 123.05,386.02 123.30,385.75 123.55,385.34 123.80,384.78 124.05,384.06 124.30,383.23 124.55,382.36 124.80,381.56 125.05,380.95 125.30,380.63 125.55,380.66 125.80,381.04 126.05,381.69 126.30,382.50 126.55,383.37 126.80,384.17 127.05,384.85 127.30,385.38 127.55,385.75 127.80,385.99 128.05,386.14 128.30,386.22 128.55,386.26 128.80,386.28 129.05,386.28 129.30,386.27 129.55,386.25 129.80,386.20 130.05,386.12 130.30,385.99 130.55,385.79 130.80,385.51 131.05,385.13 131.30,384.69 131.55,384.19 131.80,383.72 132.05,383.32 132.30,383.07 132.55,383.00 132.80,383.14 133.05,383.45 133.30,383.88 133.55,384.36 133.80,384.84 134.05,385.25 134.30,385.58 134.55,385.82 134.80,385.99 135.05,386.09 135.30,386.14 135.55,386.17 135.80,386.17 136.05,386.15 136.30,386.12 136.55,386.05 136.80,385.95 137.05,385.79 137.30,385.55 137.55,385.22 137.80,384.73" fill="none" stroke="#444" stroke-width="1.0" stroke-linejoin="round"/>
<polyline points="137.80,384.73 138.05,383.67 138.30,380.60 138.55,373.09 138.80,361.62 139.05,353.73 139.30,356.82 139.55,367.36 139.80,376.34 140.05,380.59 140.30,382.08" fill="none" stroke="#999" stroke-width="0.75" stroke-linejoin="round"/>
<polyline points="140.30,382.08 140.55,382.81 140.80,383.44 141.05,384.03 141.30,384.57 141.55,385.02 141.80,385.37 142.05,385.63 142.30,385.81 142.55,385.93 142.80,386.01 143.05,386.05 143.30,386.07 143.55,386.08 143.80,386.07 144.05,386.07 144.30,386.05 144.55,386.02 144.80,385.98 145.05,385.90 145.30,385.76 145.55,385.47 145.80,384.86" fill="none" stroke="#444" stroke-width="1.0" stroke-linejoin="round"/>
<polyline points="145.80,384.86 146.05,383.69 146.30,381.72 146.55,379.03 146.80,376.21 147.05,374.22" fill="none" stroke="#999" stroke-width="0.75" stroke-linejoin="round"/>
<polyline points="147.05,374.22 147.30,373.90" fill="none" stroke="#444" stroke-width="1.0" stroke-linejoin="round"/>
<polyline points="147.30,373.90 147.55,375.33 147.80,377.84 148.05,380.46 148.30,382.51 148.55,383.82" fill="none" stroke="#999" stroke-width="0.75" stroke-linejoin="round"/>
<polyline points="148.55,383.82 148.80,384.57 149.05,385.00 149.30,385.27 149.55,385.47 149.80,385.62 150.05,385.72 150.30,385.78 150.55,385.78 150.80,385.71 151.05,385.56 151.30,385.29 151.55,384.87 151.80,384.30 152.05,383.56 152.30,382.71 152.55,381.81 152.80,380.99 153.05,380.36 153.30,380.03 153.55,380.06 153.80,380.44 154.05,381.10 154.30,381.93 154.55,382.81 154.80,383.63 155.05,384.32 155.30,384.85 155.55,385.23 155.80,385.47 156.05,385.62 156.30,385.70 156.55,385.74 156.80,385.75 157.05,385.75 157.30,385.75 157.55,385.74 157.80,385.73 158.05,385.73 158.30,385.72 158.55,385.71 158.80,385.70 159.05,385.69 159.30,385.68 159.55,385.68 159.80,385.67 160.05,385.66 160.30,385.65 160.55,385.64 160.80,385.63 161.05,385.62 161.30,385.62 161.55,385.61 161.80,385.60 162.05,385.59 162.30,385.58 162.55,385.57 162.80,385.56 163.05,385.56 163.30,385.55 163.55,385.54 163.80,385.53 164.05,385.52 164.30,385.51 164.55,385.50 164.80,385.50 165.05,385.49 165.30,385.47 165.55,385.46 165.80,385.43 166.05,385.39 166.30,385.32 166.55,385.20 166.80,384.99 167.05,384.67 167.30,384.18 167.55,383.47 167.80,382.48" fill="none" stroke="#444" stroke-width="1.0" stroke-linejoin="round"/>
<polyline points="167.80,382.48 168.05,380.91 168.30,377.26 168.55,366.65 168.80,342.55 169.05,309.99 169.30,293.00 169.55,307.77 169.80,338.39 170.05,361.06 170.30,370.88 170.55,374.36 170.80,376.29 171.05,378.03 171.30,379.68 171.55,381.15 171.80,382.37" fill="none" stroke="#999" stroke-width="0.75" stroke-linejoin="round"/>
<polyline points="171.80,382.37 172.05,383.32 172.30,384.01 172.55,384.48 172.80,384.79 173.05,384.97 173.30,385.08 173.55,385.14 173.80,385.16 174.05,385.17 174.30,385.17 174.55,385.16 174.80,385.16 175.05,385.15 175.30,385.14 175.55,385.13 175.80,385.12 176.05,385.11 176.30,385.11 176.55,385.10 176.80,385.09 177.05,385.08 177.30,385.07 177.55,385.06 177.80,385.05 178.05,385.05 178.30,385.04 178.55,385.03 178.80,385.02 179.05,385.01 179.30,385.00 179.55,384.99 179.80,384.98 180.05,384.96 180.30,384.93 180.55,384.86 180.80,384.76 181.05,384.58 181.30,384.32 181.55,383.99 181.80,383.63 182.05,383.30 182.30,383.07 182.55,383.00 182.80,383.10 183.05,383.32 183.30,383.56 183.55,383.72 183.80,383.71 184.05,383.50 184.30,383.17 184.55,382.82 184.80,382.62 185.05,382.65 185.30,382.93 185.55,383.37 185.80,383.82 186.05,384.21 186.30,384.47 186.55,384.62 186.80,384.69 187.05,384.72 187.30,384.73 187.55,384.72 187.80,384.71 188.05,384.71 188.30,384.70 188.55,384.69 188.80,384.68 189.05,384.67 189.30,384.66 189.55,384.66 189.80,384.65 190.05,384.64 190.30,384.63 190.55,384.62 190.80,384.61 191.05,384.60 191.30,384.60 191.55,384.59 191.80,384.58 192.05,384.57 192.30,384.56 192.55,384.55 192.80,384.54 193.05,384.54 193.30,384.53 193.55,384.52 193.80,384.51 194.05,384.50 194.30,384.48 194.55,384.47 194.80,384.44 195.05,384.40 195.30,384.34 195.55,384.25 195.80,384.10 196.05,383.84 196.30,383.25" fill="none" stroke="#444" stroke-width="1.0" stroke-linejoin="round"/>
<polyline points="196.30,383.25 196.55,381.89 196.80,379.18 197.05,375.02 197.30,370.57 197.55,368.02" fill="none" stroke="#999" stroke-width="0.75" stroke-linejoin="round"/>
<polyline points="197.55,368.02 197.80,368.86" fill="none" stroke="#444" stroke-width="1.0" stroke-linejoin="round"/>
<polyline points="197.80,368.86 198.05,372.46 198.30,376.67 198.55,379.82 198.80,381.59" fill="none" stroke="#999" stroke-width="0.75" stroke-linejoin="round"/>
<polyline points="198.80,381.59 199.05,382.46 199.30,382.92 199.55,383.25 199.80,383.52 200.05,383.74 200.30,383.92 200.55,384.06 200.80,384.15 201.05,384.21 201.30,384.25 201.55,384.27 201.80,384.28 202.05,384.29 202.30,384.29 202.55,384.30 202.80,384.30 203.05,384.30 203.30,384.30 203.55,384.30 203.80,384.30 204.05,384.30 204.30,384.30 204.55,384.30 204.80,384.30 205.05,384.29 205.30,384.29 205.55,384.29 205.80,384.29 206.05,384.29 206.30,384.29 206.55,384.29 206.80,384.29 207.05,384.29 207.30,384.29 207.55,384.29 207.80,384.29 208.05,384.29 208.30,384.29 208.55,384.29 208.80,384.29 209.05,384.29 209.30,384.29 209.55,384.29 209.80,384.29 210.05,384.29 210.30,384.29 210.55,384.29 210.80,384.29 211.05,384.29 211.30,384.29 211.55,384.29 211.80,384.29 212.05,384.29 212.30,384.29 212.55,384.29 212.80,384.29 213.05,384.29 213.30,384.29 213.55,384.29 213.80,384.29 214.05,384.29 214.30,384.29 214.55,384.29 214.80,384.29 215.05,384.28 215.30,384.28 215.55,384.28 215.80,384.28 216.05,384.28 216.30,384.28 216.55,384.28 216.80,384.28 217.05,384.28 217.30,384.28 217.55,384.28 217.80,384.28 218.05,384.28 218.30,384.28 218.55,384.28 218.80,384.28 219.05,384.28 219.30,384.28 219.55,384.28 219.80,384.28 220.05,384.28 220.30,384.28 220.55,384.28 220.80,384.28 221.05,384.28 221.30,384.28 221.55,384.28 221.80,384.28 222.05,384.28 222.30,384.28 222.55,384.28 222.80,384.28 223.05,384.27 223.30,384.26 223.55,384.24 223.80,384.19 224.05,384.09 224.30,383.92 224.55,383.66 224.80,383.33 225.05,382.94 225.30,382.57 225.55,382.30 225.80,382.20 226.05,382.30 226.30,382.57 226.55,382.94 226.80,383.32 227.05,383.66 227.30,383.92 227.55,384.08 227.80,384.18 228.05,384.23 228.30,384.26 228.55,384.27 228.80,384.27 229.05,384.27 229.30,384.27 229.55,384.27 229.80,384.27 230.05,384.27 230.30,384.27 230.55,384.27 230.80,384.27 231.05,384.27 231.30,384.27 231.55,384.27 231.80,384.27 232.05,384.27 232.30,384.27 232.55,384.27 232.80,384.27 233.05,384.27 233.30,384.27 233.55,384.27 233.80,384.27 234.05,384.27 234.30,384.27 234.55,384.27 234.80,384.27 235.05,384.26 235.30,384.26 235.55,384.26 235.80,384.26 236.05,384.26 236.30,384.26 236.55,384.26 236.80,384.26 237.05,384.26 237.30,384.26 237.55,384.26 237.80,384.26 238.05,384.26 238.30,384.26 238.55,384.26 238.80,384.26 239.05,384.26 239.30,384.26 239.55,384.26 239.80,384.26 240.05,384.26 240.30,384.26 240.55,384.26 240.80,384.26 241.05,384.26 241.30,384.26 241.55,384.26 241.80,384.26 242.05,384.26 242.30,384.26 242.55,384.26 242.80,384.26 243.05,384.26 243.30,384.26 243.55,384.26 243.80,384.26 244.05,384.26 244.30,384.26 244.55,384.26 244.80,384.26 245.05,384.25 245.30,384.25 245.55,384.25 245.80,384.25 246.05,384.24 246.30,384.23 246.55,384.21 246.80,384.18 247.05,384.13 247.30,384.05 247.55,383.96 247.80,383.84 248.05,383.71 248.30,383.59 248.55,383.48 248.80,383.42 249.05,383.40 249.30,383.44 249.55,383.52 249.80,383.63 250.05,383.76 250.30,383.88 250.55,383.99 250.80,384.08 251.05,384.14 251.30,384.19 251.55,384.22 251.80,384.23 252.05,384.24 252.30,384.24 252.55,384.25 252.80,384.25 253.05,384.25 253.30,384.25 253.55,384.25 253.80,384.25 254.05,384.25 254.30,384.25 254.55,384.25 254.80,384.25 255.05,384.24 255.30,384.24 255.55,384.24 255.80,384.24 256.05,384.24 256.30,384.24 256.55,384.24 256.80,384.24 257.05,384.24 257.30,384.24 257.55,384.24 257.80,384.24 258.05,384.24 258.30,384.24 258.55,384.24 258.80,384.24 259.05,384.24 259.30,384.24 259.55,384.24 259.80,384.24 260.05,384.24 260.30,384.24 260.55,384.24 260.80,384.24 261.05,384.24 261.30,384.24 261.55,384.24 261.80,384.24 262.05,384.24 262.30,384.24 262.55,384.24 262.80,384.24 263.05,384.24 263.30,384.24 263.55,384.24 263.80,384.24 264.05,384.24 264.30,384.24 264.55,384.24 264.80,384.24 265.05,384.23 265.30,384.23 265.55,384.23 265.80,384.23 266.05,384.23 266.30,384.23 266.55,384.23 266.80,384.23 267.05,384.23 267.30,384.23 267.55,384.23 267.80,384.23 268.05,384.23 268.30,384.23 268.55,384.23 268.80,384.23 269.05,384.23 269.30,384.23 269.55,384.23 269.80,384.23 270.05,384.23 270.30,384.23 270.55,384.23 270.80,384.23 271.05,384.23 271.30,384.23 271.55,384.23 271.80,384.23 272.05,384.23 272.30,384.23 272.55,384.23 272.80,384.23 273.05,384.23 273.30,384.23 273.55,384.23 273.80,384.23 274.05,384.23 274.30,384.23 274.55,384.23 274.80,384.23 275.05,384.22 275.30,384.22 275.55,384.22 275.80,384.22 276.05,384.22 276.30,384.22 276.55,384.22 276.80,384.22 277.05,384.22 277.30,384.22 277.55,384.22 277.80,384.22 278.05,384.22 278.30,384.22 278.55,384.22 278.80,384.22 279.05,384.22 279.30,384.22 279.55,384.22 279.80,384.22 280.05,384.22 280.30,384.22 280.55,384.22 280.80,384.22 281.05,384.22 281.30,384.22 281.55,384.22 281.80,384.22 282.05,384.22 282.30,384.22 282.55,384.22 282.80,384.22 283.05,384.22 283.30,384.22 283.55,384.22 283.80,384.22 284.05,384.22 284.30,384.22 284.55,384.22 284.80,384.22 285.05,384.21 285.30,384.21 285.55,384.21 285.80,384.21 286.05,384.21 286.30,384.21 286.55,384.21 286.80,384.21 287.05,384.21 287.30,384.21 287.55,384.21 287.80,384.21 288.05,384.21 288.30,384.21 288.55,384.21 288.80,384.21 289.05,384.21 289.30,384.21 289.55,384.21 289.80,384.21 290.05,384.21 290.30,384.21 290.55,384.21 290.80,384.21 291.05,384.21 291.30,384.21 291.55,384.21 291.80,384.21 292.05,384.21 292.30,384.21 292.55,384.21 292.80,384.21 293.05,384.21 293.30,384.21 293.55,384.21 293.80,384.21 294.05,384.21 294.30,384.21 294.55,384.21 294.80,384.21 295.05,384.20 295.30,384.20 295.55,384.20 295.80,384.20 296.05,384.20 296.30,384.20 296.55,384.20 296.80,384.20 297.05,384.20 297.30,384.20 297.55,384.20 297.80,384.20 298.05,384.20 298.30,384.20 298.55,384.20 298.80,384.20 299.05,384.20 299.30,384.20 299.55,384.20 299.80,384.20 300.05,384.20 300.30,384.20 300.55,384.19 300.80,384.19 301.05,384.19 301.30,384.19 301.55,384.19 301.80,384.18 302.05,384.18 302.30,384.18 302.55,384.18 302.80,384.17 303.05,384.17 303.30,384.17 303.55,384.17 303.80,384.17 304.05,384.16 304.30,384.16 304.55,384.16 304.80,384.16 305.05,384.15 305.30,384.15 305.55,384.15 305.80,384.15 306.05,384.14 306.30,384.14 306.55,384.14 306.80,384.14 307.05,384.14 307.30,384.13 307.55,384.13 307.80,384.13 308.05,384.13 308.30,384.12 308.55,384.12 308.80,384.12 309.05,384.12 309.30,384.12 309.55,384.11 309.80,384.11 310.05,384.11 310.30,384.11 310.55,384.10 310.80,384.10 311.05,384.10 311.30,384.10 311.55,384.09 311.80,384.09 312.05,384.09 312.30,384.09 312.55,384.09 312.80,384.08 313.05,384.08 313.30,384.08 313.55,384.08 313.80,384.07 314.05,384.07 314.30,384.06 314.55,384.06 314.80,384.04 315.05,384.02 315.30,383.99 315.55,383.94 315.80,383.86 316.05,383.75 316.30,383.60 316.55,383.40 316.80,383.16 317.05,382.87 317.30,382.57 317.55,382.26 317.80,381.99 318.05,381.77 318.30,381.64 318.55,381.60 318.80,381.67 319.05,381.84 319.30,382.08 319.55,382.36 319.80,382.67 320.05,382.96 320.30,383.23 320.55,383.45 320.80,383.62 321.05,383.75 321.30,383.85 321.55,383.91 321.80,383.95 322.05,383.97 322.30,383.98 322.55,383.99 322.80,383.99 323.05,383.99 323.30,383.99 323.55,383.99 323.80,383.98 324.05,383.98 324.30,383.98 324.55,383.98 324.80,383.97 325.05,383.97 325.30,383.97 325.55,383.97 325.80,383.97 326.05,383.96 326.30,383.96 326.55,383.96 326.80,383.96 327.05,383.95 327.30,383.95 327.55,383.95 327.80,383.95 328.05,383.94 328.30,383.94 328.55,383.94 328.80,383.94 329.05,383.94 329.30,383.93 329.55,383.93 329.80,383.93 330.05,383.93 330.30,383.92 330.55,383.92 330.80,383.92 331.05,383.92 331.30,383.92 331.55,383.91 331.80,383.91 332.05,383.91 332.30,383.91 332.55,383.90 332.80,383.90 333.05,383.90 333.30,383.90 333.55,383.89 333.80,383.89 334.05,383.89 334.30,383.89 334.55,383.89 334.80,383.88 335.05,383.88 335.30,383.88 335.55,383.88 335.80,383.87 336.05,383.87 336.30,383.87 336.55,383.87 336.80,383.87 337.05,383.86 337.30,383.86 337.55,383.86 337.80,383.86 338.05,383.85 338.30,383.85 338.55,383.85 338.80,383.85 339.05,383.85 339.30,383.84 339.55,383.84 339.80,383.84 340.05,383.84 340.30,383.83 340.55,383.83 340.80,383.83 341.05,383.83 341.30,383.82 341.55,383.82 341.80,383.82 342.05,383.82 342.30,383.82 342.55,383.81 342.80,383.81 343.05,383.81 343.30,383.81 343.55,383.80 343.80,383.80 344.05,383.82 344.30,383.90 344.55,383.98 344.80,384.06 345.05,384.14 345.30,384.22 345.55,384.30 345.80,384.38 346.05,384.46 346.30,384.54 346.55,384.62 346.80,384.70 347.05,384.79 347.30,384.87 347.55,384.95 347.80,385.03 348.05,385.11 348.30,385.19 348.55,385.27 348.80,385.35 349.05,385.43 349.30,385.51 349.55,385.59 349.80,385.67 350.05,385.75 350.30,385.84 350.55,385.92 350.80,386.00 351.05,386.08 351.30,386.16 351.55,386.24 351.80,386.32 352.05,386.40 352.30,386.48 352.55,386.56 352.80,386.64 353.05,386.72 353.30,386.80 353.55,386.89 353.80,386.97 354.05,387.05 354.30,387.13 354.55,387.21 354.80,387.29 355.05,387.37 355.30,387.45 355.55,387.53 355.80,387.61 356.05,387.69 356.30,387.77 356.55,387.85 356.80,387.94 357.05,388.00 357.30,388.00 357.55,388.00 357.80,387.99 358.05,387.99 358.30,387.99 358.55,387.99 358.80,387.99 359.05,387.98 359.30,387.98 359.55,387.98 359.80,387.98 360.05,387.98 360.30,387.97 360.55,387.97 360.80,387.97 361.05,387.97 361.30,387.97 361.55,387.97 361.80,387.96 362.05,387.96 362.30,387.96 362.55,387.96 362.80,387.96 363.05,387.95 363.30,387.95 363.55,387.95 363.80,387.95 364.05,387.95 364.30,387.94 364.55,387.94 364.80,387.94 365.05,387.94 365.30,387.94 365.55,387.93 365.80,387.93 366.05,387.93 366.30,387.93 366.55,387.93 366.80,387.93 367.05,387.92 367.30,387.92 367.55,387.92 367.80,387.92 368.05,387.92 368.30,387.91 368.55,387.91 368.80,387.91 369.05,387.91 369.30,387.91 369.55,387.90 369.80,387.90 370.05,387.90 370.30,387.90 370.55,387.90 370.80,387.89 371.05,387.89 371.30,387.89 371.55,387.89 371.80,387.89 372.05,387.89 372.30,387.88 372.55,387.88 372.80,387.88 373.05,387.88 373.30,387.88 373.55,387.87 373.80,387.87 374.05,387.87 374.30,387.87 374.55,387.87 374.80,387.86 375.05,387.86 375.30,387.86 375.55,387.86 375.80,387.86 376.05,387.85 376.30,387.85 376.55,387.85 376.80,387.85 377.05,387.85 377.30,387.85 377.55,387.84 377.80,387.84 378.05,387.84 378.30,387.84 378.55,387.84 378.80,387.83 379.05,387.83 379.30,387.83 379.55,387.83 379.80,387.83 380.05,387.82 380.30,387.82 380.55,387.82 380.80,387.82 381.05,387.82 381.30,387.81 381.55,387.81 381.80,387.81 382.05,387.81 382.30,387.81 382.55,387.80 382.80,387.80 383.05,387.80 383.30,387.80 383.55,387.80 383.80,387.80 384.05,387.79 384.30,387.79 384.55,387.79 384.80,387.79 385.05,387.79 385.30,387.78 385.55,387.78 385.80,387.78 386.05,387.78 386.30,387.78 386.55,387.77 386.80,387.77 387.05,387.77 387.30,387.77 387.55,387.77 387.80,387.76 388.05,387.76 388.30,387.76 388.55,387.76 388.80,387.76 389.05,387.76 389.30,387.75 389.55,387.75 389.80,387.75 390.05,387.75 390.30,387.75 390.55,387.74 390.80,387.74 391.05,387.74 391.30,387.74 391.55,387.74 391.80,387.73 392.05,387.73 392.30,387.73 392.55,387.73 392.80,387.73 393.05,387.72 393.30,387.72 393.55,387.72 393.80,387.72 394.05,387.72 394.30,387.72 394.55,387.71 394.80,387.71 395.05,387.71 395.30,387.71 395.55,387.71 395.80,387.70 396.05,387.70 396.30,387.70" fill="none" stroke="#444" stroke-width="1.0" stroke-linejoin="round"/>
<path d="M43.40 381.80L44.15 383.40L43.40 385.80L42.65 383.40Z" fill="#333"/>
<line x1="43.70" y1="385.80" x2="43.90" y2="387.40" stroke="#bbb" stroke-width="0.6"/>
<line x1="44.00" y1="387.40" x2="44.00" y2="394.80" stroke="#777" stroke-width="0.9"/>
<text transform="translate(91.60 369.30) scale(0.92 1)" class="pk" text-anchor="middle">1</text>
<text transform="translate(96.10 369.30) scale(0.92 1)" class="pk" text-anchor="middle">2</text>
<text transform="translate(102.20 379.50) scale(0.92 1)" class="pk" text-anchor="middle">456</text>
<text transform="translate(112.70 334.80) scale(0.92 1)" class="pk" text-anchor="middle">8</text>
<text transform="translate(125.50 377.70) scale(0.92 1)" class="pk" text-anchor="middle">11</text>
<text transform="translate(132.90 377.90) scale(0.92 1)" class="pk" text-anchor="middle">12</text>
<text transform="translate(140.20 348.50) scale(0.92 1)" class="pk" text-anchor="middle">13</text>
<text transform="translate(148.20 368.90) scale(0.92 1)" class="pk" text-anchor="middle">15</text>
<text transform="translate(155.10 376.10) scale(0.92 1)" class="pk" text-anchor="middle">16</text>
<text transform="translate(170.00 294.30) scale(0.92 1)" class="pk" text-anchor="middle">21</text>
<text transform="translate(184.10 378.30) scale(0.92 1)" class="pk" text-anchor="middle">2425</text>
<text transform="translate(197.60 359.70) scale(0.92 1)" class="pk" text-anchor="middle">26</text>
<text transform="translate(226.50 376.90) scale(0.92 1)" class="pk" text-anchor="middle">28</text>
<text transform="translate(249.80 376.90) scale(0.92 1)" class="pk" text-anchor="middle">30</text>
<text transform="translate(319.00 379.90) scale(0.92 1)" class="pk" text-anchor="middle">31</text>
<text x="385.8" y="306.60" class="ti" text-anchor="end">Youhou&#160; flesh</text>
<text transform="translate(6.8 343.50) rotate(-90)" class="au" text-anchor="middle">AU</text>
<rect x="186.8" y="402.4" width="32" height="8" fill="#fff"/>
<text x="189.6" y="409.00" class="mn">minute</text>
<text x="207.6" y="411.60" class="sm">1/100</text>
<line x1="21.8" y1="422.8" x2="396.0" y2="422.8" stroke="#cdcdcd" stroke-width="1.4"/>
<line x1="396.0" y1="422.8" x2="396.0" y2="537.8" stroke="#cdcdcd" stroke-width="1"/>
<line x1="21.8" y1="422.8" x2="21.8" y2="535.8" stroke="#b4b4b4" stroke-width="0.7"/>
<line x1="21.8" y1="535.8" x2="396.0" y2="535.8" stroke="#b4b4b4" stroke-width="0.9"/>
<text x="19.5" y="431.25" class="tk" text-anchor="end">0.35</text>
<line x1="20.0" y1="429.50" x2="21.8" y2="429.50" stroke="#999" stroke-width="0.6"/>
<text x="19.5" y="445.66" class="tk" text-anchor="end">0.30</text>
<line x1="20.0" y1="443.91" x2="21.8" y2="443.91" stroke="#999" stroke-width="0.6"/>
<text x="19.5" y="460.07" class="tk" text-anchor="end">0.25</text>
<line x1="20.0" y1="458.32" x2="21.8" y2="458.32" stroke="#999" stroke-width="0.6"/>
<text x="19.5" y="474.48" class="tk" text-anchor="end">0.20</text>
<line x1="20.0" y1="472.73" x2="21.8" y2="472.73" stroke="#999" stroke-width="0.6"/>
<text x="19.5" y="488.89" class="tk" text-anchor="end">0.15</text>
<line x1="20.0" y1="487.14" x2="21.8" y2="487.14" stroke="#999" stroke-width="0.6"/>
<text x="19.5" y="503.30" class="tk" text-anchor="end">0.10</text>
<line x1="20.0" y1="501.55" x2="21.8" y2="501.55" stroke="#999" stroke-width="0.6"/>
<text x="19.5" y="517.71" class="tk" text-anchor="end">0.05</text>
<line x1="20.0" y1="515.96" x2="21.8" y2="515.96" stroke="#999" stroke-width="0.6"/>
<text x="19.5" y="532.12" class="tk" text-anchor="end">0.00</text>
<line x1="20.0" y1="530.37" x2="21.8" y2="530.37" stroke="#999" stroke-width="0.6"/>
<line x1="20.8" y1="423.74" x2="21.8" y2="423.74" stroke="#999" stroke-width="0.5"/>
<line x1="20.8" y1="426.62" x2="21.8" y2="426.62" stroke="#999" stroke-width="0.5"/>
<line x1="20.8" y1="432.38" x2="21.8" y2="432.38" stroke="#999" stroke-width="0.5"/>
<line x1="20.8" y1="435.26" x2="21.8" y2="435.26" stroke="#999" stroke-width="0.5"/>
<line x1="20.8" y1="438.15" x2="21.8" y2="438.15" stroke="#999" stroke-width="0.5"/>
<line x1="20.8" y1="441.03" x2="21.8" y2="441.03" stroke="#999" stroke-width="0.5"/>
<line x1="20.8" y1="446.79" x2="21.8" y2="446.79" stroke="#999" stroke-width="0.5"/>
<line x1="20.8" y1="449.67" x2="21.8" y2="449.67" stroke="#999" stroke-width="0.5"/>
<line x1="20.8" y1="452.56" x2="21.8" y2="452.56" stroke="#999" stroke-width="0.5"/>
<line x1="20.8" y1="455.44" x2="21.8" y2="455.44" stroke="#999" stroke-width="0.5"/>
<line x1="20.8" y1="461.20" x2="21.8" y2="461.20" stroke="#999" stroke-width="0.5"/>
<line x1="20.8" y1="464.08" x2="21.8" y2="464.08" stroke="#999" stroke-width="0.5"/>
<line x1="20.8" y1="466.97" x2="21.8" y2="466.97" stroke="#999" stroke-width="0.5"/>
<line x1="20.8" y1="469.85" x2="21.8" y2="469.85" stroke="#999" stroke-width="0.5"/>
<line x1="20.8" y1="475.61" x2="21.8" y2="475.61" stroke="#999" stroke-width="0.5"/>
<line x1="20.8" y1="478.49" x2="21.8" y2="478.49" stroke="#999" stroke-width="0.5"/>
<line x1="20.8" y1="481.38" x2="21.8" y2="481.38" stroke="#999" stroke-width="0.5"/>
<line x1="20.8" y1="484.26" x2="21.8" y2="484.26" stroke="#999" stroke-width="0.5"/>
<line x1="20.8" y1="490.02" x2="21.8" y2="490.02" stroke="#999" stroke-width="0.5"/>
<line x1="20.8" y1="492.90" x2="21.8" y2="492.90" stroke="#999" stroke-width="0.5"/>
<line x1="20.8" y1="495.79" x2="21.8" y2="495.79" stroke="#999" stroke-width="0.5"/>
<line x1="20.8" y1="498.67" x2="21.8" y2="498.67" stroke="#999" stroke-width="0.5"/>
<line x1="20.8" y1="504.43" x2="21.8" y2="504.43" stroke="#999" stroke-width="0.5"/>
<line x1="20.8" y1="507.31" x2="21.8" y2="507.31" stroke="#999" stroke-width="0.5"/>
<line x1="20.8" y1="510.20" x2="21.8" y2="510.20" stroke="#999" stroke-width="0.5"/>
<line x1="20.8" y1="513.08" x2="21.8" y2="513.08" stroke="#999" stroke-width="0.5"/>
<line x1="20.8" y1="518.84" x2="21.8" y2="518.84" stroke="#999" stroke-width="0.5"/>
<line x1="20.8" y1="521.72" x2="21.8" y2="521.72" stroke="#999" stroke-width="0.5"/>
<line x1="20.8" y1="524.61" x2="21.8" y2="524.61" stroke="#999" stroke-width="0.5"/>
<line x1="20.8" y1="527.49" x2="21.8" y2="527.49" stroke="#999" stroke-width="0.5"/>
<line x1="20.8" y1="533.25" x2="21.8" y2="533.25" stroke="#999" stroke-width="0.5"/>
<line x1="22.00" y1="535.8" x2="22.00" y2="537.8" stroke="#999" stroke-width="0.5"/>
<text x="22.00" y="543.10" class="tk" text-anchor="middle">0.00</text>
<line x1="28.24" y1="535.8" x2="28.24" y2="536.8" stroke="#999" stroke-width="0.5"/>
<line x1="34.48" y1="535.8" x2="34.48" y2="536.8" stroke="#999" stroke-width="0.5"/>
<line x1="40.72" y1="535.8" x2="40.72" y2="536.8" stroke="#999" stroke-width="0.5"/>
<line x1="46.96" y1="535.8" x2="46.96" y2="536.8" stroke="#999" stroke-width="0.5"/>
<line x1="53.20" y1="535.8" x2="53.20" y2="537.8" stroke="#999" stroke-width="0.5"/>
<text x="53.20" y="543.10" class="tk" text-anchor="middle">5.00</text>
<line x1="59.44" y1="535.8" x2="59.44" y2="536.8" stroke="#999" stroke-width="0.5"/>
<line x1="65.68" y1="535.8" x2="65.68" y2="536.8" stroke="#999" stroke-width="0.5"/>
<line x1="71.92" y1="535.8" x2="71.92" y2="536.8" stroke="#999" stroke-width="0.5"/>
<line x1="78.16" y1="535.8" x2="78.16" y2="536.8" stroke="#999" stroke-width="0.5"/>
<line x1="84.40" y1="535.8" x2="84.40" y2="537.8" stroke="#999" stroke-width="0.5"/>
<text x="84.40" y="543.10" class="tk" text-anchor="middle">10.00</text>
<line x1="90.64" y1="535.8" x2="90.64" y2="536.8" stroke="#999" stroke-width="0.5"/>
<line x1="96.88" y1="535.8" x2="96.88" y2="536.8" stroke="#999" stroke-width="0.5"/>
<line x1="103.12" y1="535.8" x2="103.12" y2="536.8" stroke="#999" stroke-width="0.5"/>
<line x1="109.36" y1="535.8" x2="109.36" y2="536.8" stroke="#999" stroke-width="0.5"/>
<line x1="115.60" y1="535.8" x2="115.60" y2="537.8" stroke="#999" stroke-width="0.5"/>
<text x="115.60" y="543.10" class="tk" text-anchor="middle">15.00</text>
<line x1="121.84" y1="535.8" x2="121.84" y2="536.8" stroke="#999" stroke-width="0.5"/>
<line x1="128.08" y1="535.8" x2="128.08" y2="536.8" stroke="#999" stroke-width="0.5"/>
<line x1="134.32" y1="535.8" x2="134.32" y2="536.8" stroke="#999" stroke-width="0.5"/>
<line x1="140.56" y1="535.8" x2="140.56" y2="536.8" stroke="#999" stroke-width="0.5"/>
<line x1="146.80" y1="535.8" x2="146.80" y2="537.8" stroke="#999" stroke-width="0.5"/>
<text x="146.80" y="543.10" class="tk" text-anchor="middle">20.00</text>
<line x1="153.04" y1="535.8" x2="153.04" y2="536.8" stroke="#999" stroke-width="0.5"/>
<line x1="159.28" y1="535.8" x2="159.28" y2="536.8" stroke="#999" stroke-width="0.5"/>
<line x1="165.52" y1="535.8" x2="165.52" y2="536.8" stroke="#999" stroke-width="0.5"/>
<line x1="171.76" y1="535.8" x2="171.76" y2="536.8" stroke="#999" stroke-width="0.5"/>
<line x1="178.00" y1="535.8" x2="178.00" y2="537.8" stroke="#999" stroke-width="0.5"/>
<text x="178.00" y="543.10" class="tk" text-anchor="middle">25.00</text>
<line x1="184.24" y1="535.8" x2="184.24" y2="536.8" stroke="#999" stroke-width="0.5"/>
<line x1="190.48" y1="535.8" x2="190.48" y2="536.8" stroke="#999" stroke-width="0.5"/>
<line x1="196.72" y1="535.8" x2="196.72" y2="536.8" stroke="#999" stroke-width="0.5"/>
<line x1="202.96" y1="535.8" x2="202.96" y2="536.8" stroke="#999" stroke-width="0.5"/>
<line x1="209.20" y1="535.8" x2="209.20" y2="537.8" stroke="#999" stroke-width="0.5"/>
<text x="209.20" y="543.10" class="tk" text-anchor="middle">30.00</text>
<line x1="215.44" y1="535.8" x2="215.44" y2="536.8" stroke="#999" stroke-width="0.5"/>
<line x1="221.68" y1="535.8" x2="221.68" y2="536.8" stroke="#999" stroke-width="0.5"/>
<line x1="227.92" y1="535.8" x2="227.92" y2="536.8" stroke="#999" stroke-width="0.5"/>
<line x1="234.16" y1="535.8" x2="234.16" y2="536.8" stroke="#999" stroke-width="0.5"/>
<line x1="240.40" y1="535.8" x2="240.40" y2="537.8" stroke="#999" stroke-width="0.5"/>
<text x="240.40" y="543.10" class="tk" text-anchor="middle">35.00</text>
<line x1="246.64" y1="535.8" x2="246.64" y2="536.8" stroke="#999" stroke-width="0.5"/>
<line x1="252.88" y1="535.8" x2="252.88" y2="536.8" stroke="#999" stroke-width="0.5"/>
<line x1="259.12" y1="535.8" x2="259.12" y2="536.8" stroke="#999" stroke-width="0.5"/>
<line x1="265.36" y1="535.8" x2="265.36" y2="536.8" stroke="#999" stroke-width="0.5"/>
<line x1="271.60" y1="535.8" x2="271.60" y2="537.8" stroke="#999" stroke-width="0.5"/>
<text x="271.60" y="543.10" class="tk" text-anchor="middle">40.00</text>
<line x1="277.84" y1="535.8" x2="277.84" y2="536.8" stroke="#999" stroke-width="0.5"/>
<line x1="284.08" y1="535.8" x2="284.08" y2="536.8" stroke="#999" stroke-width="0.5"/>
<line x1="290.32" y1="535.8" x2="290.32" y2="536.8" stroke="#999" stroke-width="0.5"/>
<line x1="296.56" y1="535.8" x2="296.56" y2="536.8" stroke="#999" stroke-width="0.5"/>
<line x1="302.80" y1="535.8" x2="302.80" y2="537.8" stroke="#999" stroke-width="0.5"/>
<text x="302.80" y="543.10" class="tk" text-anchor="middle">45.00</text>
<line x1="309.04" y1="535.8" x2="309.04" y2="536.8" stroke="#999" stroke-width="0.5"/>
<line x1="315.28" y1="535.8" x2="315.28" y2="536.8" stroke="#999" stroke-width="0.5"/>
<line x1="321.52" y1="535.8" x2="321.52" y2="536.8" stroke="#999" stroke-width="0.5"/>
<line x1="327.76" y1="535.8" x2="327.76" y2="536.8" stroke="#999" stroke-width="0.5"/>
<line x1="334.00" y1="535.8" x2="334.00" y2="537.8" stroke="#999" stroke-width="0.5"/>
<text x="334.00" y="543.10" class="tk" text-anchor="middle">50.00</text>
<line x1="340.24" y1="535.8" x2="340.24" y2="536.8" stroke="#999" stroke-width="0.5"/>
<line x1="346.48" y1="535.8" x2="346.48" y2="536.8" stroke="#999" stroke-width="0.5"/>
<line x1="352.72" y1="535.8" x2="352.72" y2="536.8" stroke="#999" stroke-width="0.5"/>
<line x1="358.96" y1="535.8" x2="358.96" y2="536.8" stroke="#999" stroke-width="0.5"/>
<line x1="365.20" y1="535.8" x2="365.20" y2="537.8" stroke="#999" stroke-width="0.5"/>
<text x="365.20" y="543.10" class="tk" text-anchor="middle">55.00</text>
<line x1="371.44" y1="535.8" x2="371.44" y2="536.8" stroke="#999" stroke-width="0.5"/>
<line x1="377.68" y1="535.8" x2="377.68" y2="536.8" stroke="#999" stroke-width="0.5"/>
<line x1="383.92" y1="535.8" x2="383.92" y2="536.8" stroke="#999" stroke-width="0.5"/>
<line x1="390.16" y1="535.8" x2="390.16" y2="536.8" stroke="#999" stroke-width="0.5"/>
<line x1="396.40" y1="535.8" x2="396.40" y2="537.8" stroke="#999" stroke-width="0.5"/>
<text x="396.40" y="543.10" class="tk" text-anchor="middle">60.00</text>
<polyline points="21.80,530.20 22.05,530.20 22.30,530.19 22.55,530.19 22.80,530.19 23.05,530.18 23.30,530.18 23.55,530.18 23.80,530.17 24.05,530.17 24.30,530.17 24.55,530.16 24.80,530.16 25.05,530.16 25.30,530.15 25.55,530.15 25.80,530.15 26.05,530.14 26.30,530.14 26.55,530.13 26.80,530.13 27.05,530.13 27.30,530.12 27.55,530.12 27.80,530.12 28.05,530.11 28.30,530.11 28.55,530.11 28.80,530.10 29.05,530.10 29.30,530.10 29.55,530.09 29.80,530.09 30.05,530.09 30.30,530.08 30.55,530.08 30.80,530.08 31.05,530.07 31.30,530.07 31.55,530.07 31.80,530.06 32.05,530.06 32.30,530.06 32.55,530.05 32.80,530.05 33.05,530.05 33.30,530.04 33.55,530.04 33.80,530.04 34.05,530.03 34.30,530.03 34.55,530.02 34.80,530.02 35.05,530.02 35.30,530.01 35.55,530.01 35.80,530.01 36.05,530.00 36.30,530.00 36.55,530.00 36.80,529.99 37.05,529.99 37.30,529.99 37.55,529.98 37.80,529.98 38.05,529.98 38.30,529.97 38.55,529.97 38.80,529.97 39.05,529.96 39.30,529.96 39.55,529.96 39.80,529.95 40.05,529.95 40.30,529.95 40.55,529.94 40.80,529.94 41.05,529.94 41.30,529.93 41.55,529.93 41.80,529.93 42.05,529.92 42.30,529.92 42.55,529.91 42.80,529.91 43.05,529.91 43.30,529.90 43.55,529.90 43.80,529.90 44.05,529.89 44.30,529.89 44.55,529.89 44.80,529.88 45.05,529.88 45.30,529.88 45.55,529.87 45.80,529.87 46.05,529.87 46.30,529.86 46.55,529.86 46.80,529.86 47.05,529.85 47.30,529.85 47.55,529.85 47.80,529.84 48.05,529.84 48.30,529.84 48.55,529.83 48.80,529.83 49.05,529.83 49.30,529.82 49.55,529.82 49.80,529.82 50.05,529.81 50.30,529.81 50.55,529.80 50.80,529.80 51.05,529.80 51.30,529.79 51.55,529.79 51.80,529.79 52.05,529.78 52.30,529.78 52.55,529.78 52.80,529.77 53.05,529.77 53.30,529.77 53.55,529.76 53.80,529.76 54.05,529.76 54.30,529.75 54.55,529.75 54.80,529.75 55.05,529.74 55.30,529.74 55.55,529.74 55.80,529.73 56.05,529.73 56.30,529.73 56.55,529.72 56.80,529.72 57.05,529.72 57.30,529.71 57.55,529.71 57.80,529.71 58.05,529.70 58.30,529.70 58.55,529.69 58.80,529.69 59.05,529.69 59.30,529.68 59.55,529.68 59.80,529.68 60.05,529.67 60.30,529.67 60.55,529.67 60.80,529.66 61.05,529.66 61.30,529.66 61.55,529.65 61.80,529.65 62.05,529.65 62.30,529.64 62.55,529.64 62.80,529.64 63.05,529.63 63.30,529.63 63.55,529.63 63.80,529.62 64.05,529.62 64.30,529.62 64.55,529.61 64.80,529.61 65.05,529.61 65.30,529.60 65.55,529.60 65.80,529.60 66.05,529.59 66.30,529.59 66.55,529.58 66.80,529.58 67.05,529.58 67.30,529.57 67.55,529.57 67.80,529.57 68.05,529.56 68.30,529.56 68.55,529.56 68.80,529.55 69.05,529.55 69.30,529.55 69.55,529.54 69.80,529.54 70.05,529.54 70.30,529.53 70.55,529.53 70.80,529.53 71.05,529.52 71.30,529.52 71.55,529.52 71.80,529.51 72.05,529.51 72.30,529.51 72.55,529.50 72.80,529.50 73.05,529.50 73.30,529.49 73.55,529.49 73.80,529.49 74.05,529.48 74.30,529.48 74.55,529.47 74.80,529.47 75.05,529.47 75.30,529.46 75.55,529.46 75.80,529.46 76.05,529.45 76.30,529.45 76.55,529.45 76.80,529.44 77.05,529.44 77.30,529.44 77.55,529.43 77.80,529.43 78.05,529.43 78.30,529.42 78.55,529.42 78.80,529.42 79.05,529.41 79.30,529.41 79.55,529.41 79.80,529.40 80.05,529.40 80.30,529.39 80.55,529.39 80.80,529.39 81.05,529.38 81.30,529.38 81.55,529.37 81.80,529.37 82.05,529.36 82.30,529.36 82.55,529.36 82.80,529.35 83.05,529.35 83.30,529.34 83.55,529.34 83.80,529.33 84.05,529.33 84.30,529.33 84.55,529.32 84.80,529.32 85.05,529.31 85.30,529.31 85.55,529.30 85.80,529.30 86.05,529.30 86.30,529.29 86.55,529.29 86.80,529.28 87.05,529.28 87.30,529.27 87.55,529.27 87.80,529.26 88.05,529.25 88.30,529.18 88.55,528.93 88.80,528.25" fill="none" stroke="#444" stroke-width="1.0" stroke-linejoin="round"/>
<polyline points="88.80,528.25 89.05,526.85 89.30,524.76 89.55,522.71" fill="none" stroke="#999" stroke-width="0.75" stroke-linejoin="round"/>
<polyline points="89.55,522.71 89.80,521.80 90.05,522.59" fill="none" stroke="#444" stroke-width="1.0" stroke-linejoin="round"/>
<polyline points="90.05,522.59 90.30,524.49 90.55,526.39 90.80,527.54" fill="none" stroke="#999" stroke-width="0.75" stroke-linejoin="round"/>
<polyline points="90.80,527.54 91.05,527.86 91.30,527.42" fill="none" stroke="#444" stroke-width="1.0" stroke-linejoin="round"/>
<polyline points="91.30,527.42 91.55,525.55 91.80,520.53 92.05,511.92 92.30,504.59" fill="none" stroke="#999" stroke-width="0.75" stroke-linejoin="round"/>
<polyline points="92.30,504.59 92.55,505.20" fill="none" stroke="#444" stroke-width="1.0" stroke-linejoin="round"/>
<polyline points="92.55,505.20 92.80,512.82 93.05,520.45 93.30,524.43 93.55,525.86" fill="none" stroke="#999" stroke-width="0.75" stroke-linejoin="round"/>
<polyline points="93.55,525.86 93.80,526.48 94.05,526.97 94.30,527.43 94.55,527.86 94.80,528.22 95.05,528.51 95.30,528.73 95.55,528.86 95.80,528.89 96.05,528.70 96.30,528.03" fill="none" stroke="#444" stroke-width="1.0" stroke-linejoin="round"/>
<polyline points="96.30,528.03 96.55,526.59 96.80,524.43 97.05,522.31" fill="none" stroke="#999" stroke-width="0.75" stroke-linejoin="round"/>
<polyline points="97.05,522.31 97.30,521.40 97.55,522.29" fill="none" stroke="#444" stroke-width="1.0" stroke-linejoin="round"/>
<polyline points="97.55,522.29 97.80,524.36 98.05,526.35" fill="none" stroke="#999" stroke-width="0.75" stroke-linejoin="round"/>
<polyline points="98.05,526.35 98.30,527.29 98.55,526.94" fill="none" stroke="#444" stroke-width="1.0" stroke-linejoin="round"/>
<polyline points="98.55,526.94 98.80,525.62 99.05,524.14" fill="none" stroke="#999" stroke-width="0.75" stroke-linejoin="round"/>
<polyline points="99.05,524.14 99.30,523.50 99.55,524.15" fill="none" stroke="#444" stroke-width="1.0" stroke-linejoin="round"/>
<polyline points="99.55,524.15 99.80,525.68 100.05,527.25 100.30,528.30" fill="none" stroke="#999" stroke-width="0.75" stroke-linejoin="round"/>
<polyline points="100.30,528.30 100.55,528.80 100.80,528.98 101.05,529.03 101.30,529.03 101.55,529.03 101.80,529.02 102.05,529.00 102.30,528.97 102.55,528.91 102.80,528.80 103.05,528.62 103.30,528.36 103.55,528.02 103.80,527.64 104.05,527.30 104.30,527.06 104.55,527.00 104.80,527.13 105.05,527.40 105.30,527.76 105.55,528.12 105.80,528.41 106.05,528.62 106.30,528.73 106.55,528.77 106.80,528.74 107.05,528.64 107.30,528.48 107.55,528.24 107.80,527.89 108.05,527.36" fill="none" stroke="#444" stroke-width="1.0" stroke-linejoin="round"/>
<polyline points="108.05,527.36 108.30,526.18 108.55,522.91 108.80,515.59 109.05,505.65 109.30,500.00 109.55,503.30 109.80,510.94 110.05,516.06 110.30,517.42" fill="none" stroke="#999" stroke-width="0.75" stroke-linejoin="round"/>
<polyline points="110.30,517.42 110.55,517.14 110.80,516.85 111.05,517.10 111.30,517.99" fill="none" stroke="#444" stroke-width="1.0" stroke-linejoin="round"/>
<polyline points="111.30,517.99 111.55,519.38 111.80,521.05 112.05,522.76 112.30,524.31 112.55,525.58" fill="none" stroke="#999" stroke-width="0.75" stroke-linejoin="round"/>
<polyline points="112.55,525.58 112.80,526.53 113.05,527.20 113.30,527.65 113.55,527.94 113.80,528.14 114.05,528.29 114.30,528.39 114.55,528.48 114.80,528.55 115.05,528.60 115.30,528.65 115.55,528.68 115.80,528.71 116.05,528.72 116.30,528.74 116.55,528.74 116.80,528.74 117.05,528.74 117.30,528.74 117.55,528.73 117.80,528.71 118.05,528.69 118.30,528.67 118.55,528.63 118.80,528.59 119.05,528.52 119.30,528.44 119.55,528.33 119.80,528.18 120.05,527.94 120.30,527.58 120.55,527.01 120.80,526.14" fill="none" stroke="#444" stroke-width="1.0" stroke-linejoin="round"/>
<polyline points="120.80,526.14 121.05,524.86 121.30,523.08 121.55,520.77 121.80,518.05 122.05,515.14 122.30,512.42 122.55,510.29 122.80,509.14" fill="none" stroke="#999" stroke-width="0.75" stroke-linejoin="round"/>
<polyline points="122.80,509.14 123.05,509.16" fill="none" stroke="#444" stroke-width="1.0" stroke-linejoin="round"/>
<polyline points="123.05,509.16 123.30,510.34 123.55,512.45 123.80,515.10 124.05,517.87 124.30,520.43 124.55,522.57 124.80,524.22 125.05,525.42" fill="none" stroke="#999" stroke-width="0.75" stroke-linejoin="round"/>
<polyline points="125.05,525.42 125.30,526.25 125.55,526.81 125.80,527.21 126.05,527.49 126.30,527.71 126.55,527.89 126.80,528.03 127.05,528.15 127.30,528.23 127.55,528.29 127.80,528.31 128.05,528.28 128.30,528.21 128.55,528.08 128.80,527.89 129.05,527.64 129.30,527.36 129.55,527.08 129.80,526.83 130.05,526.66 130.30,526.60 130.55,526.66 130.80,526.82 131.05,527.06 131.30,527.35 131.55,527.63 131.80,527.88 132.05,528.09 132.30,528.24 132.55,528.35 132.80,528.41 133.05,528.45 133.30,528.46 133.55,528.47 133.80,528.46 134.05,528.45 134.30,528.43 134.55,528.39 134.80,528.33 135.05,528.23 135.30,528.09 135.55,527.88 135.80,527.49 136.05,526.57" fill="none" stroke="#444" stroke-width="1.0" stroke-linejoin="round"/>
<polyline points="136.05,526.57 136.30,524.31 136.55,519.70 136.80,513.07 137.05,507.43" fill="none" stroke="#999" stroke-width="0.75" stroke-linejoin="round"/>
<polyline points="137.05,507.43 137.30,506.57" fill="none" stroke="#444" stroke-width="1.0" stroke-linejoin="round"/>
<polyline points="137.30,506.57 137.55,510.99 137.80,517.31 138.05,522.14 138.30,524.66 138.55,525.74" fill="none" stroke="#999" stroke-width="0.75" stroke-linejoin="round"/>
<polyline points="138.55,525.74 138.80,526.25 139.05,526.54 139.30,526.68 139.55,526.64 139.80,526.45 140.05,526.19 140.30,526.01 140.55,526.02 140.80,526.27 141.05,526.69 141.30,527.18 141.55,527.62 141.80,527.94 142.05,528.11 142.30,528.14 142.55,527.96 142.80,527.46 143.05,526.52" fill="none" stroke="#444" stroke-width="1.0" stroke-linejoin="round"/>
<polyline points="143.05,526.52 143.30,525.12 143.55,523.55 143.80,522.34" fill="none" stroke="#999" stroke-width="0.75" stroke-linejoin="round"/>
<polyline points="143.80,522.34 144.05,522.02 144.30,522.74" fill="none" stroke="#444" stroke-width="1.0" stroke-linejoin="round"/>
<polyline points="144.30,522.74 144.55,524.15 144.80,525.70 145.05,526.92" fill="none" stroke="#999" stroke-width="0.75" stroke-linejoin="round"/>
<polyline points="145.05,526.92 145.30,527.68 145.55,528.05 145.80,528.20 146.05,528.25 146.30,528.26 146.55,528.25 146.80,528.24 147.05,528.22 147.30,528.17 147.55,528.08 147.80,527.90 148.05,527.61 148.30,527.19 148.55,526.64 148.80,526.03 149.05,525.48 149.30,525.10 149.55,525.01 149.80,525.21 150.05,525.66 150.30,526.22 150.55,526.75 150.80,527.09 151.05,527.12 151.30,526.77 151.55,526.02" fill="none" stroke="#444" stroke-width="1.0" stroke-linejoin="round"/>
<polyline points="151.55,526.02 151.80,525.00 152.05,523.95" fill="none" stroke="#999" stroke-width="0.75" stroke-linejoin="round"/>
<polyline points="152.05,523.95 152.30,523.20 152.55,523.02 152.80,523.47 153.05,524.41" fill="none" stroke="#444" stroke-width="1.0" stroke-linejoin="round"/>
<polyline points="153.05,524.41 153.30,525.54 153.55,526.57" fill="none" stroke="#999" stroke-width="0.75" stroke-linejoin="round"/>
<polyline points="153.55,526.57 153.80,527.33 154.05,527.78 154.30,527.95 154.55,527.90 154.80,527.63 155.05,527.18 155.30,526.60 155.55,526.02 155.80,525.61 156.05,525.51 156.30,525.75 156.55,526.25 156.80,526.84 157.05,527.35 157.30,527.63 157.55,527.61 157.80,527.26 158.05,526.59 158.30,525.70 158.55,524.81 158.80,524.17 159.05,524.01 159.30,524.39 159.55,525.16 159.80,526.06 160.05,526.84 160.30,527.33 160.55,527.48 160.80,527.31 161.05,526.92 161.30,526.41 161.55,525.92 161.80,525.59 162.05,525.51 162.30,525.71 162.55,526.14 162.80,526.68 163.05,527.23 163.30,527.70 163.55,528.04 163.80,528.25 164.05,528.37 164.30,528.41 164.55,528.38 164.80,528.29 165.05,528.11 165.30,527.81 165.55,527.34 165.80,526.64 166.05,525.66" fill="none" stroke="#444" stroke-width="1.0" stroke-linejoin="round"/>
<polyline points="166.05,525.66 166.30,524.17 166.55,520.99 166.80,511.71 167.05,488.96 167.30,454.20 167.55,430.30 167.80,439.69 168.05,471.64 168.30,498.89 168.55,511.77 168.80,516.33 169.05,518.55 169.30,520.45 169.55,522.27 169.80,523.91 170.05,525.30 170.30,526.38" fill="none" stroke="#999" stroke-width="0.75" stroke-linejoin="round"/>
<polyline points="170.30,526.38 170.55,527.18 170.80,527.72 171.05,528.05 171.30,528.20 171.55,528.19 171.80,528.05 172.05,527.81 172.30,527.51 172.55,527.24 172.80,527.05 173.05,527.00 173.30,527.12 173.55,527.35 173.80,527.63 174.05,527.87 174.30,527.99 174.55,527.94 174.80,527.71 175.05,527.32 175.30,526.84 175.55,526.39 175.80,526.08 176.05,526.01 176.30,526.20 176.55,526.59 176.80,527.10 177.05,527.61 177.30,528.02 177.55,528.29 177.80,528.40 178.05,528.36 178.30,528.18 178.55,527.90 178.80,527.57 179.05,527.26 179.30,527.05 179.55,527.00 179.80,527.13 180.05,527.40 180.30,527.75 180.55,528.09 180.80,528.38 181.05,528.60 181.30,528.74 181.55,528.82 181.80,528.87 182.05,528.89 182.30,528.90 182.55,528.90 182.80,528.84 183.05,528.59 183.30,527.88" fill="none" stroke="#444" stroke-width="1.0" stroke-linejoin="round"/>
<polyline points="183.30,527.88 183.55,526.42 183.80,524.24 184.05,522.11" fill="none" stroke="#999" stroke-width="0.75" stroke-linejoin="round"/>
<polyline points="184.05,522.11 184.30,521.20 184.55,522.12" fill="none" stroke="#444" stroke-width="1.0" stroke-linejoin="round"/>
<polyline points="184.55,522.12 184.80,524.26 185.05,526.45 185.30,527.93" fill="none" stroke="#999" stroke-width="0.75" stroke-linejoin="round"/>
<polyline points="185.30,527.93 185.55,528.64 185.80,528.90 186.05,528.98 186.30,529.00 186.55,529.00 186.80,529.01 187.05,529.02 187.30,529.02 187.55,529.03 187.80,529.03 188.05,529.04 188.30,529.04 188.55,529.05 188.80,529.05 189.05,529.06 189.30,529.06 189.55,529.07 189.80,529.08 190.05,529.08 190.30,529.09 190.55,529.09 190.80,529.10 191.05,529.10 191.30,529.11 191.55,529.11 191.80,529.12 192.05,529.12 192.30,529.12 192.55,529.12 192.80,529.12 193.05,529.10 193.30,529.07 193.55,529.01 193.80,528.91 194.05,528.75 194.30,528.43 194.55,527.66" fill="none" stroke="#444" stroke-width="1.0" stroke-linejoin="round"/>
<polyline points="194.55,527.66 194.80,525.92 195.05,522.58 195.30,517.75 195.55,513.03 195.80,510.90 196.05,512.61 196.30,516.95 196.55,521.51 196.80,524.71 197.05,526.44" fill="none" stroke="#999" stroke-width="0.75" stroke-linejoin="round"/>
<polyline points="197.05,526.44 197.30,527.28 197.55,527.77 197.80,528.14 198.05,528.44 198.30,528.69 198.55,528.89 198.80,529.03 199.05,529.13 199.30,529.20 199.55,529.24 199.80,529.27 200.05,529.29 200.30,529.30 200.55,529.30 200.80,529.30 201.05,529.30 201.30,529.29 201.55,529.27 201.80,529.21 202.05,529.10 202.30,528.95 202.55,528.77 202.80,528.64 203.05,528.60 203.30,528.68 203.55,528.85 203.80,529.02 204.05,529.16 204.30,529.25 204.55,529.29 204.80,529.31 205.05,529.32 205.30,529.32 205.55,529.32 205.80,529.32 206.05,529.32 206.30,529.33 206.55,529.33 206.80,529.33 207.05,529.33 207.30,529.33 207.55,529.33 207.80,529.33 208.05,529.33 208.30,529.33 208.55,529.33 208.80,529.34 209.05,529.34 209.30,529.34 209.55,529.34 209.80,529.34 210.05,529.34 210.30,529.34 210.55,529.34 210.80,529.34 211.05,529.34 211.30,529.35 211.55,529.35 211.80,529.35 212.05,529.35 212.30,529.35 212.55,529.35 212.80,529.35 213.05,529.35 213.30,529.35 213.55,529.35 213.80,529.36 214.05,529.36 214.30,529.36 214.55,529.36 214.80,529.36 215.05,529.36 215.30,529.36 215.55,529.36 215.80,529.36 216.05,529.36 216.30,529.37 216.55,529.37 216.80,529.37 217.05,529.37 217.30,529.37 217.55,529.37 217.80,529.37 218.05,529.37 218.30,529.37 218.55,529.37 218.80,529.38 219.05,529.38 219.30,529.38 219.55,529.38 219.80,529.38 220.05,529.38 220.30,529.38 220.55,529.38 220.80,529.38 221.05,529.38 221.30,529.39 221.55,529.39 221.80,529.39 222.05,529.39 222.30,529.39 222.55,529.39 222.80,529.39 223.05,529.39 223.30,529.39 223.55,529.39 223.80,529.40 224.05,529.40 224.30,529.40 224.55,529.40 224.80,529.40 225.05,529.40 225.30,529.40 225.55,529.40 225.80,529.40 226.05,529.40 226.30,529.41 226.55,529.41 226.80,529.41 227.05,529.41 227.30,529.41 227.55,529.41 227.80,529.41 228.05,529.41 228.30,529.41 228.55,529.41 228.80,529.42 229.05,529.42 229.30,529.42 229.55,529.42 229.80,529.42 230.05,529.42 230.30,529.42 230.55,529.42 230.80,529.42 231.05,529.42 231.30,529.43 231.55,529.43 231.80,529.43 232.05,529.43 232.30,529.43 232.55,529.43 232.80,529.43 233.05,529.43 233.30,529.43 233.55,529.43 233.80,529.44 234.05,529.44 234.30,529.44 234.55,529.44 234.80,529.44 235.05,529.44 235.30,529.44 235.55,529.44 235.80,529.44 236.05,529.44 236.30,529.45 236.55,529.45 236.80,529.45 237.05,529.45 237.30,529.45 237.55,529.45 237.80,529.45 238.05,529.45 238.30,529.45 238.55,529.45 238.80,529.46 239.05,529.46 239.30,529.46 239.55,529.46 239.80,529.46 240.05,529.46 240.30,529.46 240.55,529.46 240.80,529.46 241.05,529.46 241.30,529.47 241.55,529.47 241.80,529.47 242.05,529.47 242.30,529.47 242.55,529.47 242.80,529.47 243.05,529.47 243.30,529.47 243.55,529.47 243.80,529.48 244.05,529.48 244.30,529.48 244.55,529.48 244.80,529.48 245.05,529.48 245.30,529.48 245.55,529.48 245.80,529.48 246.05,529.48 246.30,529.49 246.55,529.49 246.80,529.49 247.05,529.49 247.30,529.49 247.55,529.49 247.80,529.49 248.05,529.49 248.30,529.49 248.55,529.49 248.80,529.50 249.05,529.50 249.30,529.50 249.55,529.50 249.80,529.50 250.05,529.50 250.30,529.50 250.55,529.50 250.80,529.50 251.05,529.50 251.30,529.51 251.55,529.51 251.80,529.51 252.05,529.51 252.30,529.51 252.55,529.51 252.80,529.51 253.05,529.51 253.30,529.51 253.55,529.51 253.80,529.52 254.05,529.52 254.30,529.52 254.55,529.52 254.80,529.52 255.05,529.52 255.30,529.52 255.55,529.52 255.80,529.52 256.05,529.52 256.30,529.53 256.55,529.53 256.80,529.53 257.05,529.53 257.30,529.53 257.55,529.53 257.80,529.53 258.05,529.53 258.30,529.53 258.55,529.53 258.80,529.54 259.05,529.54 259.30,529.54 259.55,529.54 259.80,529.54 260.05,529.54 260.30,529.54 260.55,529.54 260.80,529.54 261.05,529.54 261.30,529.55 261.55,529.55 261.80,529.55 262.05,529.55 262.30,529.55 262.55,529.55 262.80,529.55 263.05,529.55 263.30,529.55 263.55,529.55 263.80,529.56 264.05,529.56 264.30,529.56 264.55,529.56 264.80,529.56 265.05,529.56 265.30,529.56 265.55,529.56 265.80,529.56 266.05,529.56 266.30,529.57 266.55,529.57 266.80,529.57 267.05,529.57 267.30,529.57 267.55,529.57 267.80,529.57 268.05,529.57 268.30,529.57 268.55,529.57 268.80,529.58 269.05,529.58 269.30,529.58 269.55,529.58 269.80,529.58 270.05,529.58 270.30,529.58 270.55,529.58 270.80,529.58 271.05,529.58 271.30,529.59 271.55,529.59 271.80,529.59 272.05,529.59 272.30,529.59 272.55,529.59 272.80,529.59 273.05,529.59 273.30,529.59 273.55,529.59 273.80,529.60 274.05,529.60 274.30,529.60 274.55,529.60 274.80,529.60 275.05,529.60 275.30,529.60 275.55,529.60 275.80,529.60 276.05,529.60 276.30,529.61 276.55,529.61 276.80,529.61 277.05,529.61 277.30,529.61 277.55,529.61 277.80,529.61 278.05,529.61 278.30,529.61 278.55,529.61 278.80,529.62 279.05,529.62 279.30,529.62 279.55,529.62 279.80,529.62 280.05,529.62 280.30,529.62 280.55,529.62 280.80,529.62 281.05,529.62 281.30,529.63 281.55,529.63 281.80,529.63 282.05,529.63 282.30,529.63 282.55,529.63 282.80,529.63 283.05,529.63 283.30,529.63 283.55,529.63 283.80,529.64 284.05,529.64 284.30,529.64 284.55,529.64 284.80,529.64 285.05,529.64 285.30,529.64 285.55,529.64 285.80,529.64 286.05,529.64 286.30,529.65 286.55,529.65 286.80,529.65 287.05,529.65 287.30,529.65 287.55,529.65 287.80,529.65 288.05,529.65 288.30,529.65 288.55,529.65 288.80,529.66 289.05,529.66 289.30,529.66 289.55,529.66 289.80,529.66 290.05,529.66 290.30,529.66 290.55,529.66 290.80,529.66 291.05,529.66 291.30,529.67 291.55,529.67 291.80,529.67 292.05,529.67 292.30,529.67 292.55,529.67 292.80,529.67 293.05,529.67 293.30,529.67 293.55,529.67 293.80,529.68 294.05,529.68 294.30,529.68 294.55,529.68 294.80,529.68 295.05,529.68 295.30,529.68 295.55,529.68 295.80,529.68 296.05,529.68 296.30,529.69 296.55,529.69 296.80,529.69 297.05,529.69 297.30,529.69 297.55,529.69 297.80,529.69 298.05,529.69 298.30,529.69 298.55,529.69 298.80,529.70 299.05,529.70 299.30,529.70 299.55,529.70 299.80,529.70 300.05,529.70 300.30,529.70 300.55,529.70 300.80,529.70 301.05,529.71 301.30,529.71 301.55,529.71 301.80,529.71 302.05,529.71 302.30,529.71 302.55,529.72 302.80,529.72 303.05,529.72 303.30,529.72 303.55,529.72 303.80,529.72 304.05,529.72 304.30,529.73 304.55,529.73 304.80,529.73 305.05,529.73 305.30,529.73 305.55,529.73 305.80,529.73 306.05,529.74 306.30,529.74 306.55,529.74 306.80,529.74 307.05,529.74 307.30,529.74 307.55,529.75 307.80,529.75 308.05,529.75 308.30,529.75 308.55,529.75 308.80,529.75 309.05,529.75 309.30,529.76 309.55,529.76 309.80,529.76 310.05,529.76 310.30,529.76 310.55,529.76 310.80,529.76 311.05,529.77 311.30,529.77 311.55,529.77 311.80,529.77 312.05,529.77 312.30,529.77 312.55,529.78 312.80,529.78 313.05,529.78 313.30,529.78 313.55,529.78 313.80,529.78 314.05,529.78 314.30,529.78 314.55,529.77 314.80,529.76 315.05,529.73 315.30,529.68 315.55,529.61 315.80,529.51 316.05,529.38 316.30,529.21 316.55,529.03 316.80,528.86 317.05,528.71 317.30,528.62 317.55,528.60 317.80,528.65 318.05,528.77 318.30,528.93 318.55,529.12 318.80,529.30 319.05,529.45 319.30,529.58 319.55,529.67 319.80,529.73 320.05,529.77 320.30,529.80 320.55,529.81 320.80,529.82 321.05,529.82 321.30,529.83 321.55,529.83 321.80,529.83 322.05,529.83 322.30,529.83 322.55,529.84 322.80,529.84 323.05,529.84 323.30,529.84 323.55,529.84 323.80,529.84 324.05,529.84 324.30,529.85 324.55,529.85 324.80,529.85 325.05,529.85 325.30,529.85 325.55,529.85 325.80,529.85 326.05,529.86 326.30,529.86 326.55,529.86 326.80,529.86 327.05,529.86 327.30,529.86 327.55,529.87 327.80,529.87 328.05,529.87 328.30,529.87 328.55,529.87 328.80,529.87 329.05,529.87 329.30,529.88 329.55,529.88 329.80,529.88 330.05,529.88 330.30,529.88 330.55,529.88 330.80,529.88 331.05,529.89 331.30,529.89 331.55,529.89 331.80,529.89 332.05,529.89 332.30,529.89 332.55,529.90 332.80,529.90 333.05,529.90 333.30,529.90 333.55,529.90 333.80,529.90 334.05,529.90 334.30,529.91 334.55,529.91 334.80,529.91 335.05,529.91 335.30,529.91 335.55,529.91 335.80,529.91 336.05,529.92 336.30,529.92 336.55,529.92 336.80,529.92 337.05,529.92 337.30,529.92 337.55,529.93 337.80,529.93 338.05,529.93 338.30,529.93 338.55,529.93 338.80,529.93 339.05,529.93 339.30,529.94 339.55,529.94 339.80,529.94 340.05,529.94 340.30,529.94 340.55,529.94 340.80,529.94 341.05,529.95 341.30,529.95 341.55,529.95 341.80,529.95 342.05,529.95 342.30,529.95 342.55,529.96 342.80,529.96 343.05,529.96 343.30,529.96 343.55,529.96 343.80,529.96 344.05,529.96 344.30,529.97 344.55,529.97 344.80,529.97 345.05,529.97 345.30,529.97 345.55,529.97 345.80,529.97 346.05,529.98 346.30,529.98 346.55,529.98 346.80,529.98 347.05,529.98 347.30,529.98 347.55,529.99 347.80,529.99 348.05,529.99 348.30,529.99 348.55,529.99 348.80,529.99 349.05,529.99 349.30,530.00 349.55,530.00 349.80,530.00 350.05,530.00 350.30,529.99 350.55,529.99 350.80,529.98 351.05,529.98 351.30,529.97 351.55,529.97 351.80,529.96 352.05,529.96 352.30,529.95 352.55,529.94 352.80,529.94 353.05,529.93 353.30,529.93 353.55,529.92 353.80,529.92 354.05,529.91 354.30,529.91 354.55,529.90 354.80,529.90 355.05,529.89 355.30,529.88 355.55,529.88 355.80,529.87 356.05,529.87 356.30,529.86 356.55,529.86 356.80,529.85 357.05,529.85 357.30,529.84 357.55,529.84 357.80,529.83 358.05,529.83 358.30,529.82 358.55,529.81 358.80,529.81 359.05,529.80 359.30,529.80 359.55,529.79 359.80,529.79 360.05,529.78 360.30,529.78 360.55,529.77 360.80,529.77 361.05,529.76 361.30,529.75 361.55,529.75 361.80,529.74 362.05,529.74 362.30,529.73 362.55,529.73 362.80,529.72 363.05,529.72 363.30,529.71 363.55,529.71 363.80,529.70 364.05,529.69 364.30,529.69 364.55,529.68 364.80,529.68 365.05,529.67 365.30,529.67 365.55,529.66 365.80,529.66 366.05,529.65 366.30,529.65 366.55,529.64 366.80,529.63 367.05,529.63 367.30,529.62 367.55,529.62 367.80,529.61 368.05,529.61 368.30,529.60 368.55,529.60 368.80,529.59 369.05,529.59 369.30,529.58 369.55,529.58 369.80,529.57 370.05,529.56 370.30,529.56 370.55,529.55 370.80,529.55 371.05,529.54 371.30,529.54 371.55,529.53 371.80,529.53 372.05,529.52 372.30,529.52 372.55,529.51 372.80,529.50 373.05,529.50 373.30,529.49 373.55,529.49 373.80,529.48 374.05,529.48 374.30,529.47 374.55,529.47 374.80,529.46 375.05,529.46 375.30,529.45 375.55,529.44 375.80,529.44 376.05,529.43 376.30,529.43 376.55,529.42 376.80,529.42 377.05,529.41 377.30,529.41 377.55,529.40 377.80,529.40 378.05,529.39 378.30,529.38 378.55,529.38 378.80,529.37 379.05,529.37 379.30,529.36 379.55,529.36 379.80,529.35 380.05,529.35 380.30,529.34 380.55,529.34 380.80,529.33 381.05,529.33 381.30,529.32 381.55,529.31 381.80,529.31 382.05,529.30 382.30,529.30 382.55,529.29 382.80,529.29 383.05,529.28 383.30,529.28 383.55,529.27 383.80,529.27 384.05,529.26 384.30,529.25 384.55,529.25 384.80,529.24 385.05,529.24 385.30,529.23 385.55,529.23 385.80,529.22 386.05,529.22 386.30,529.21 386.55,529.21 386.80,529.20 387.05,529.19 387.30,529.19 387.55,529.18 387.80,529.18 388.05,529.17 388.30,529.17 388.55,529.16 388.80,529.16 389.05,529.15 389.30,529.15 389.55,529.14 389.80,529.13 390.05,529.13 390.30,529.12 390.55,529.12 390.80,529.11 391.05,529.11 391.30,529.10 391.55,529.10 391.80,529.09 392.05,529.09 392.30,529.08 392.55,529.08 392.80,529.07 393.05,529.06 393.30,529.06 393.55,529.05 393.80,529.05 394.05,529.04 394.30,529.04 394.55,529.03 394.80,529.03 395.05,529.02 395.30,529.02 395.55,529.01 395.80,529.00" fill="none" stroke="#444" stroke-width="1.0" stroke-linejoin="round"/>
<line x1="41.20" y1="529.00" x2="41.20" y2="531.60" stroke="#777" stroke-width="0.9"/>
<text transform="translate(88.30 518.60) scale(0.92 1)" class="pk" text-anchor="middle">1</text>
<text transform="translate(91.90 500.30) scale(0.92 1)" class="pk" text-anchor="middle">2</text>
<text transform="translate(97.30 518.20) scale(0.92 1)" class="pk" text-anchor="middle">4</text>
<text transform="translate(101.60 518.20) scale(0.92 1)" class="pk" text-anchor="middle">5</text>
<text transform="translate(105.20 525.70) scale(0.92 1)" class="pk" text-anchor="middle">7</text>
<text transform="translate(109.20 497.80) scale(0.92 1)" class="pk" text-anchor="middle">8</text>
<text transform="translate(112.50 513.70) scale(0.92 1)" class="pk" text-anchor="middle">9</text>
<text transform="translate(123.00 504.40) scale(0.92 1)" class="pk" text-anchor="middle">11</text>
<text transform="translate(130.80 524.80) scale(0.92 1)" class="pk" text-anchor="middle">12</text>
<text transform="translate(137.40 504.40) scale(0.92 1)" class="pk" text-anchor="middle">13</text>
<text transform="translate(140.80 526.20) scale(0.92 1)" class="pk" text-anchor="middle">14</text>
<text transform="translate(144.50 520.70) scale(0.92 1)" class="pk" text-anchor="middle">15</text>
<text transform="translate(150.60 525.20) scale(0.92 1)" class="pk" text-anchor="middle">16</text>
<text transform="translate(153.30 518.60) scale(0.92 1)" class="pk" text-anchor="middle">17</text>
<text transform="translate(156.50 526.20) scale(0.92 1)" class="pk" text-anchor="middle">18</text>
<text transform="translate(159.80 520.70) scale(0.92 1)" class="pk" text-anchor="middle">19</text>
<text transform="translate(162.30 526.20) scale(0.92 1)" class="pk" text-anchor="middle">20</text>
<text transform="translate(167.20 430.00) scale(0.92 1)" class="pk" text-anchor="middle">21</text>
<text transform="translate(176.50 519.80) scale(0.92 1)" class="pk" text-anchor="middle">23</text>
<text transform="translate(176.20 526.10) scale(0.92 1)" class="pk" text-anchor="middle">2224</text>
<text transform="translate(184.30 518.30) scale(0.92 1)" class="pk" text-anchor="middle">25</text>
<text transform="translate(195.60 508.80) scale(0.92 1)" class="pk" text-anchor="middle">26</text>
<text transform="translate(203.80 525.70) scale(0.92 1)" class="pk" text-anchor="middle">27</text>
<text transform="translate(223.40 525.20) scale(0.92 1)" class="pk" text-anchor="middle">28</text>
<text transform="translate(246.40 525.20) scale(0.92 1)" class="pk" text-anchor="middle">2930</text>
<text transform="translate(317.30 523.30) scale(0.92 1)" class="pk" text-anchor="middle">31</text>
<text x="385.8" y="441.60" class="ti" text-anchor="end">Youhou&#160; peel</text>
<text transform="translate(6.8 479.70) rotate(-90)" class="au" text-anchor="middle">AU</text>
<rect x="186.8" y="539.0" width="32" height="8" fill="#fff"/>
<text x="189.6" y="544.60" class="mn">minute</text>
<text x="207.6" y="547.20" class="sm">1/100</text>
</svg></body></html>
